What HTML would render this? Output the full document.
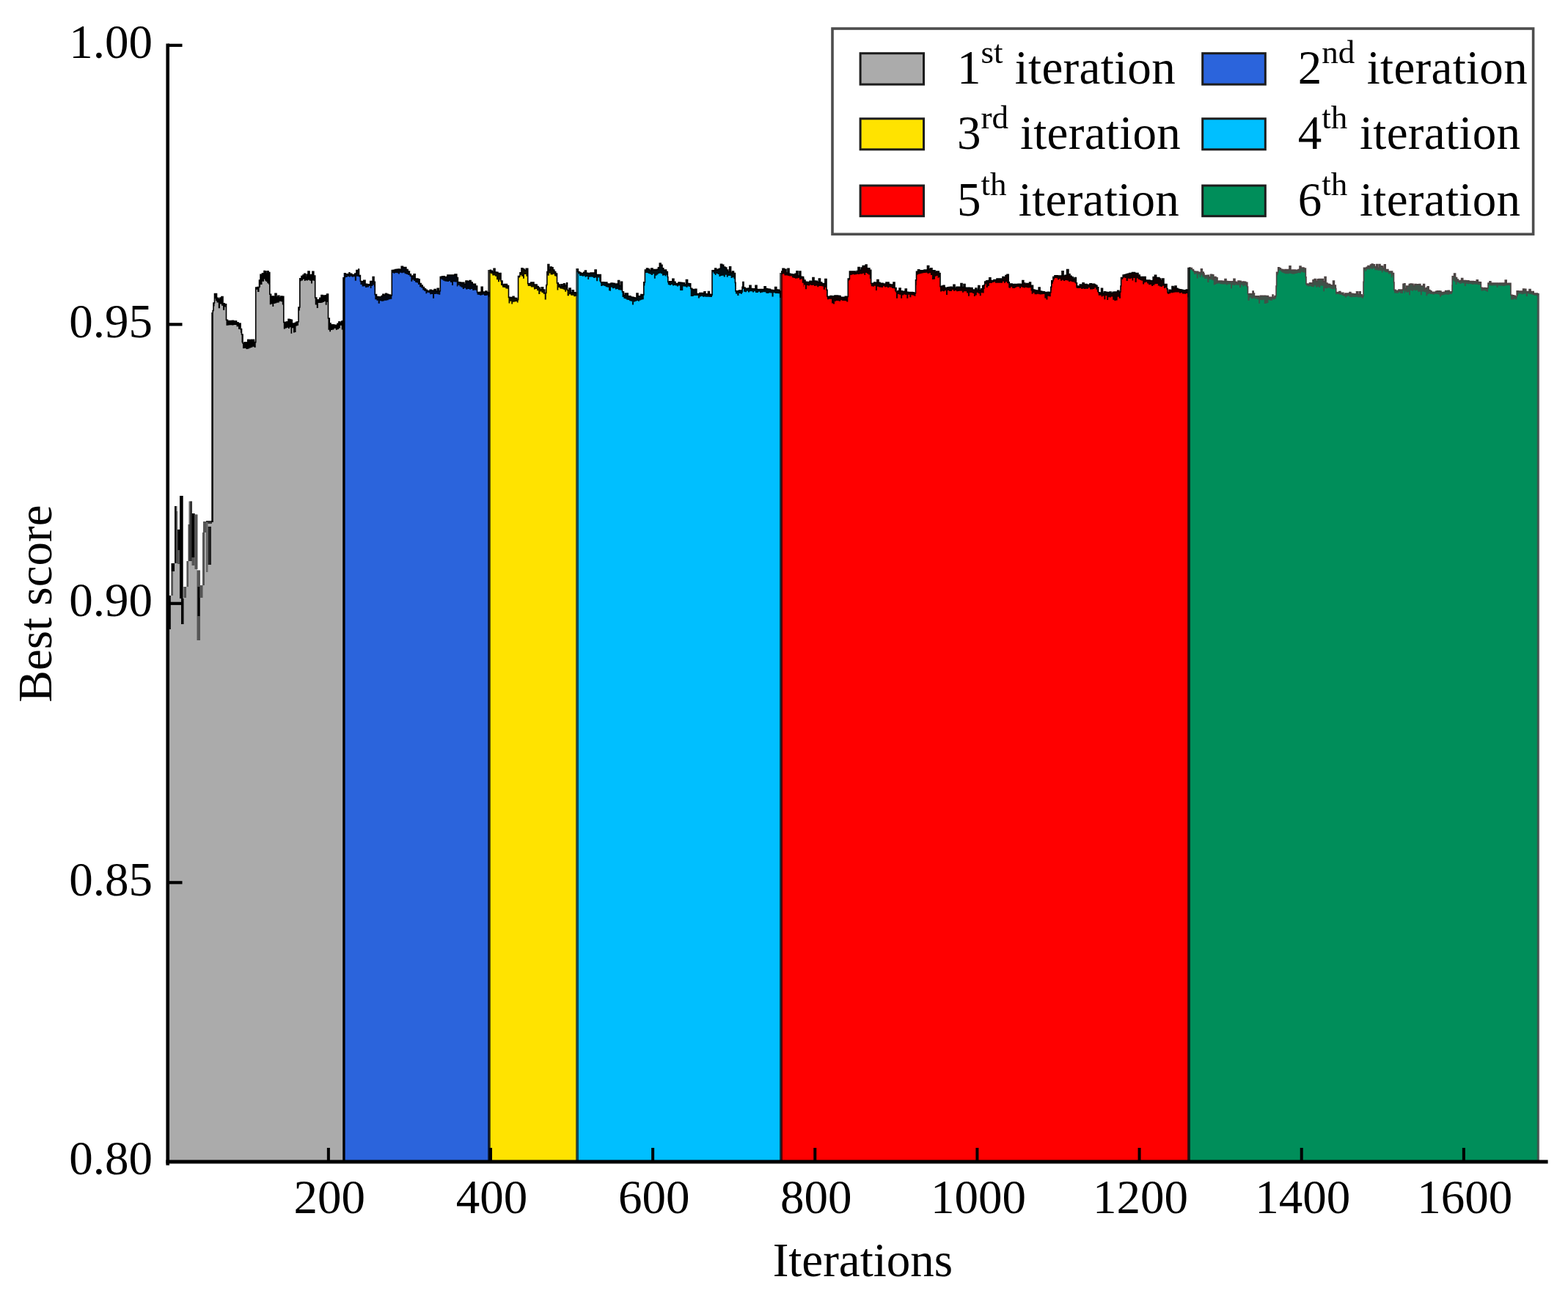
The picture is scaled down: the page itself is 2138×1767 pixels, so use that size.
<!DOCTYPE html>
<html><head><meta charset="utf-8"><title>Best score vs Iterations</title>
<style>html,body{margin:0;padding:0;background:#fff;width:2138px;height:1767px;overflow:hidden}svg{display:block}</style>
</head><body>
<svg width="2138" height="1767" viewBox="0 0 2138 1767"><polygon points="229.5,1584 229.5,812 233,812 233,768 238,768 238,690 242,690 242,722 245,722 245,676 250,676 250,800 254.5,800 254.5,765 257,765 257,683.5 262,683.5 262,700 266,700 266,701.5 269,701.5 269,777.6 273,777.6 273,798 277,798 277,726 279,726 279,711 281,711 281,710 289.5,710 289.5,423.5 291,423.5 291,413 292.5,413 292.5,400.5 294,400.5 294,400.5 295.5,400.5 295.5,406.4 297.75,406.4 297.75,407.9 300,407.9 300,406.15 302,406.15 302,404.53 304,404.53 304,413.85 306.25,413.85 306.25,414.85 308.5,414.85 308.5,436.22 310.5,436.22 310.5,437.79 312.5,437.79 312.5,437.64 314.5,437.64 314.5,437.5 316.5,437.5 316.5,437.36 318.5,437.36 318.5,437.96 320.5,437.96 320.5,437.82 322.5,437.82 322.5,439.85 325,439.85 325,441.35 327,441.35 327,441.15 328,441.15 328,448.65 329.5,448.65 329.5,455.94 331,455.94 331,467.98 333.25,467.98 333.25,466.72 335.5,466.72 335.5,466.72 337.75,466.72 337.75,463.29 340,463.29 340,464.07 342,464.07 342,463.29 344.23,463.29 344.23,463.29 346.47,463.29 346.47,466.6 348.7,466.6 348.7,392 351.1,392 351.1,391.6 353.5,391.6 353.5,382 355,382 355,374.25 357.5,374.25 357.5,372.75 360,372.75 360,369.5 361.2,369.5 361.2,370 362.5,370 362.5,373.17 364.27,373.17 364.27,369.78 366.03,369.78 366.03,371.6 367.8,371.6 367.8,401.27 369.6,401.27 369.6,404.25 371.4,404.25 371.4,404.04 373.2,404.04 373.2,404.68 375,404.68 375,400.38 376.97,400.38 376.97,405.06 378.93,405.06 378.93,403.42 380.9,403.42 380.9,405.82 382.87,405.82 382.87,404.03 384.83,404.03 384.83,404.2 386.8,404.2 386.8,439.55 388.87,439.55 388.87,439.21 390.93,439.21 390.93,438.88 393,438.88 393,435.25 394.75,435.25 394.75,435.75 396.5,435.75 396.5,436.25 398.25,436.25 398.25,440.99 400,440.99 400,440.99 401.75,440.99 401.75,440.49 403.5,440.49 403.5,439.24 405.25,439.24 405.25,438.74 407,438.74 407,419 408.8,419 408.8,379.8 410.9,379.8 410.9,376.5 413,376.5 413,375.12 414.75,375.12 414.75,373.35 416.5,373.35 416.5,377.88 418.25,377.88 418.25,374.33 420,374.33 420,370.05 422,370.05 422,374.99 424,374.99 424,374.49 425.9,374.49 425.9,370.31 427.8,370.31 427.8,375.97 429.7,375.97 429.7,405.97 431.76,405.97 431.76,408.79 433.82,408.79 433.82,408.79 435.88,408.79 435.88,406.29 437.94,406.29 437.94,402.5 440,402.5 440,403.26 441.88,403.26 441.88,403.01 443.75,403.01 443.75,402.76 445.62,402.76 445.62,401.12 447.5,401.12 447.5,434 449.25,434 449.25,440.7 451,440.7 451,442.7 453.25,442.7 453.25,442.7 455.5,442.7 455.5,443.3 457.75,443.3 457.75,443.3 460,443.3 460,441.27 461.93,441.27 461.93,438.77 463.85,438.77 463.85,440.25 465.77,440.25 465.77,438.14 467.7,438.14 467.7,437.02 468.8,437.02 468.8,1584" fill="#ababab"/>
<polygon points="468.8,1584 468.8,372.72 471,372.72 471,373.8 473.5,373.8 473.5,373.8 476,373.8 476,371.8 476.8,371.8 476.8,373.38 477.5,373.38 477.5,373.32 479.6,373.32 479.6,374.66 481.7,374.66 481.7,374.66 483.8,374.66 483.8,373 485.9,373 485.9,368.5 488,368.5 488,371 488.8,371 488.8,367.02 489.5,367.02 489.5,375.43 491.4,375.43 491.4,383.54 493.6,383.54 493.6,383.87 495.8,383.87 495.8,382.27 498,382.27 498,387.33 500.5,387.33 500.5,387.83 503,387.83 503,388.08 504.75,388.08 504.75,383.62 506.5,383.62 506.5,383.62 508.25,383.62 508.25,377.54 510,377.54 510,384.28 511.3,384.28 511.3,401.64 513.48,401.64 513.48,404.43 515.65,404.43 515.65,404.68 517.83,404.68 517.83,404.93 520,404.93 520,403.5 521.88,403.5 521.88,401.25 523.75,401.25 523.75,402.44 525.62,402.44 525.62,400.25 527.5,400.25 527.5,401.33 529.77,401.33 529.77,402 532.03,402 532.03,402.66 534.3,402.66 534.3,368.61 536.44,368.61 536.44,368.41 538.58,368.41 538.58,367.5 540.72,367.5 540.72,367.3 542.86,367.3 542.86,367.1 545,367.1 545,367.63 547.2,367.63 547.2,363.35 549.4,363.35 549.4,364.65 551.6,364.65 551.6,364.65 553.87,364.65 553.87,367.5 556.13,367.5 556.13,370.01 558.4,370.01 558.4,373.75 560.33,373.75 560.33,376.41 562.27,376.41 562.27,376.14 564.2,376.14 564.2,373.79 566.13,373.79 566.13,380 568.07,380 568.07,380 570,380 570,380.79 572.08,380.79 572.08,386.55 574.16,386.55 574.16,389.05 576.24,389.05 576.24,391.55 578.32,391.55 578.32,393.71 580.4,393.71 580.4,395.41 582.32,395.41 582.32,396.63 584.24,396.63 584.24,397.03 586.16,397.03 586.16,395.4 588.08,395.4 588.08,396.08 590,396.08 590,396.28 592.06,396.28 592.06,394.49 594.12,394.49 594.12,396.95 596.18,396.95 596.18,393.34 598.24,393.34 598.24,396.71 600.3,396.71 600.3,377.51 602.24,377.51 602.24,377.16 604.18,377.16 604.18,376.76 606.12,376.76 606.12,378.05 608.06,378.05 608.06,377.65 610,377.65 610,375 612,375 612,375 614,375 614,375.12 616,375.12 616,375.12 618,375.12 618,375.12 620,375.12 620,374.13 622.8,374.13 622.8,378.63 624.4,378.63 624.4,384.77 626.52,384.77 626.52,385.17 628.64,385.17 628.64,385.57 630.76,385.57 630.76,385.4 632.88,385.4 632.88,387.65 635,387.65 635,383.08 637.5,383.08 637.5,383.75 640,383.75 640,382.5 642.12,382.5 642.12,385 644.24,385 644.24,387.2 646.36,387.2 646.36,387.2 648.48,387.2 648.48,389.98 650.6,389.98 650.6,398.48 652.48,398.48 652.48,398.48 654.36,398.48 654.36,398.34 656.24,398.34 656.24,391.24 658.12,391.24 658.12,398.08 660,398.08 660,398.21 661.88,398.21 661.88,397 663.75,397 663.75,398.65 665.62,398.65 665.62,398.9 667.5,398.9 667.5,1584" fill="#2b64dc"/>
<polygon points="667.5,1584 667.5,368.25 669.38,368.25 669.38,369.33 671.25,369.33 671.25,370.99 673.12,370.99 673.12,366.37 675,366.37 675,370.96 677,370.96 677,371.3 679,371.3 679,373.01 681,373.01 681,372.45 683,372.45 683,383.12 685,383.12 685,388.37 687.12,388.37 687.12,387.5 689.25,387.5 689.25,387.5 691.38,387.5 691.38,389.54 693.5,389.54 693.5,405.37 695.37,405.37 695.37,405.66 697.24,405.66 697.24,405.94 699.11,405.94 699.11,404.29 700.99,404.29 700.99,406.29 702.86,406.29 702.86,406.57 704.73,406.57 704.73,408.81 706.6,408.81 706.6,376.46 709,376.46 709,371.78 711,371.78 711,365.72 713,365.72 713,366.99 715,366.99 715,368.62 717.35,368.62 717.35,366.22 719.7,366.22 719.7,386.77 721.76,386.77 721.76,386.44 723.82,386.44 723.82,385 725.88,385 725.88,385 727.94,385 727.94,388.17 730,388.17 730,388.17 732.12,388.17 732.12,390.67 734.23,390.67 734.23,392.23 736.35,392.23 736.35,394.7 738.47,394.7 738.47,391.76 740.58,391.76 740.58,395 742.7,395 742.7,399.5 744.8,399.5 744.8,388.5 745.9,388.5 745.9,370.43 747,370.43 747,360.57 748.75,360.57 748.75,368.12 750.5,368.12 750.5,364 752.25,364 752.25,364.73 754,364.73 754,367.97 755.83,367.97 755.83,370.47 757.67,370.47 757.67,372.97 759.5,372.97 759.5,385.9 761.33,385.9 761.33,388.07 763.17,388.07 763.17,390.57 765,390.57 765,387.71 766.75,387.71 766.75,390.62 768.5,390.62 768.5,386.77 770.25,386.77 770.25,390.2 772,390.2 772,388.5 772.6,388.5 772.6,385.91 773.5,385.91 773.5,395.5 776,395.5 776,393.04 778.1,393.04 778.1,399.1 780.2,399.1 780.2,395.89 782.3,395.89 782.3,398.83 784.4,398.83 784.4,399.03 786.5,399.03 786.5,1584" fill="#ffe300"/>
<polygon points="786.5,1584 786.5,367 788.25,367 788.25,370.46 790,370.46 790,371.59 791.88,371.59 791.88,372.49 793.75,372.49 793.75,372.74 795.62,372.74 795.62,371.26 797.5,371.26 797.5,369.13 799.38,369.13 799.38,372.35 801.25,372.35 801.25,372.6 803.12,372.6 803.12,372.85 805,372.85 805,372 807.03,372 807.03,372 809.06,372 809.06,372.12 811.09,372.12 811.09,368.01 813.11,368.01 813.11,374.58 815.14,374.58 815.14,374.58 817.17,374.58 817.17,374.58 819.2,374.58 819.2,384.93 821.36,384.93 821.36,384.74 823.52,384.74 823.52,384.94 825.68,384.94 825.68,385.14 827.84,385.14 827.84,387.02 830,387.02 830,387.12 831.7,387.12 831.7,387.62 833,387.62 833,386.12 834.94,386.12 834.94,386.38 836.88,386.38 836.88,386.62 838.81,386.62 838.81,388 840.75,388 840.75,387.12 842.69,387.12 842.69,382.65 844.62,382.65 844.62,389.64 846.56,389.64 846.56,384.23 848.5,384.23 848.5,397.91 850.42,397.91 850.42,402.81 852.33,402.81 852.33,400 854.25,400 854.25,400 856.17,400 856.17,403.74 858.08,403.74 858.08,403.74 860,403.74 860,405.02 862,405.02 862,405.4 864,405.4 864,405.9 866,405.9 866,406.52 868,406.52 868,400.02 869.96,400.02 869.96,403.73 871.92,403.73 871.92,403.73 873.88,403.73 873.88,401.64 875.84,401.64 875.84,401.84 877.8,401.84 877.8,384.84 879.4,384.84 879.4,368.1 881.52,368.1 881.52,366 883.64,366 883.64,366.99 885.76,366.99 885.76,368.93 887.88,368.93 887.88,366.12 890,366.12 890,367.97 891.86,367.97 891.86,367.5 893.72,367.5 893.72,368.12 895.58,368.12 895.58,367.29 897.44,367.29 897.44,364.79 899.3,364.79 899.3,359.14 901.13,359.14 901.13,361.36 902.97,361.36 902.97,365.79 904.8,365.79 904.8,368.29 906.63,368.29 906.63,368.07 908.47,368.07 908.47,370.57 910.3,370.57 910.3,377.72 910.8,377.72 910.8,384.37 912.83,384.37 912.83,383.9 914.86,383.9 914.86,383.71 916.89,383.71 916.89,380.27 918.91,380.27 918.91,384.29 920.94,384.29 920.94,386.61 922.97,386.61 922.97,386.9 925,386.9 925,385.12 927.09,385.12 927.09,385.38 929.17,385.38 929.17,385.62 931.26,385.62 931.26,385.88 933.35,385.88 933.35,387.99 935.44,387.99 935.44,381.53 937.53,381.53 937.53,386.62 939.61,386.62 939.61,386.88 941.7,386.88 941.7,393.36 943.73,393.36 943.73,394.58 945.77,394.58 945.77,394.99 947.8,394.99 947.8,394.24 949.83,394.24 949.83,400.61 951.87,400.61 951.87,400.83 953.9,400.83 953.9,399.44 955.93,399.44 955.93,399.67 957.97,399.67 957.97,399.89 960,399.89 960,397.68 961.83,397.68 961.83,400.77 963.67,400.77 963.67,400.98 965.5,400.98 965.5,397.64 967.33,397.64 967.33,401.31 969.17,401.31 969.17,402.15 971,402.15 971,368.73 972.88,368.73 972.88,368.73 974.76,368.73 974.76,366.01 976.64,366.01 976.64,368.12 978.52,368.12 978.52,367.24 980.4,367.24 980.4,366.24 982.5,366.24 982.5,360.27 984.6,360.27 984.6,361.36 986.7,361.36 986.7,364 988.8,364 988.8,365 990.74,365 990.74,368.08 992.69,368.08 992.69,370.58 994.63,370.58 994.63,363.92 996.57,363.92 996.57,372.1 998.51,372.1 998.51,370 1000.46,370 1000.46,372.5 1002.4,372.5 1002.4,385.42 1003,385.42 1003,396.89 1005.25,396.89 1005.25,396.89 1007.5,396.89 1007.5,396 1009.75,396 1009.75,396 1012,396 1012,391.18 1012.9,391.18 1012.9,384.5 1014,384.5 1014,392.14 1016,392.14 1016,393.4 1018,393.4 1018,393.55 1020,393.55 1020,393.09 1022,393.09 1022,389.34 1024,389.34 1024,393.56 1026,393.56 1026,393.72 1028,393.72 1028,393.87 1030,393.87 1030,389.29 1032,389.29 1032,394.55 1034,394.55 1034,394.7 1036,394.7 1036,394.52 1038,394.52 1038,394.45 1040,394.45 1040,394.61 1042.08,394.61 1042.08,390.87 1044.17,390.87 1044.17,393.44 1046.25,393.44 1046.25,394.05 1048.33,394.05 1048.33,394.22 1050.42,394.22 1050.42,395.38 1052.5,395.38 1052.5,395.55 1054.58,395.55 1054.58,395.95 1056.67,395.95 1056.67,391.45 1058.75,391.45 1058.75,395.14 1060.83,395.14 1060.83,395.32 1062.92,395.32 1062.92,396.97 1065,396.97 1065,1584" fill="#00bfff"/>
<polygon points="1065,1584 1065,370 1067,370 1067,366.35 1069.4,366.35 1069.4,367.35 1072,367.35 1072,371.95 1074,371.95 1074,366.33 1076,366.33 1076,373.22 1078,373.22 1078,373.72 1080,373.72 1080,374.17 1082,374.17 1082,374.57 1084,374.57 1084,373.21 1086,373.21 1086,369.92 1088,369.92 1088,376.11 1090,376.11 1090,370.17 1091.87,370.17 1091.87,377.31 1093.73,377.31 1093.73,377.5 1095.6,377.5 1095.6,379.73 1096,379.73 1096,382.05 1098,382.05 1098,384.39 1100,384.39 1100,384.62 1102,384.62 1102,384.85 1104,384.85 1104,383.19 1106,383.19 1106,384.04 1108,384.04 1108,378.44 1110,378.44 1110,383.09 1112.12,383.09 1112.12,383.28 1114.25,383.28 1114.25,384.62 1116.38,384.62 1116.38,380.02 1118.5,380.02 1118.5,384.99 1120.62,384.99 1120.62,386.66 1122.75,386.66 1122.75,386.85 1124.88,386.85 1124.88,380.6 1127,380.6 1127,395.37 1128,395.37 1128,404.37 1130,404.37 1130,404.47 1132,404.47 1132,403.67 1134,403.67 1134,403.77 1136,403.77 1136,403.87 1138,403.87 1138,402.95 1140,402.95 1140,403.06 1142.04,403.06 1142.04,403.19 1144.08,403.19 1144.08,403.62 1146.11,403.62 1146.11,405.28 1148.15,405.28 1148.15,405.4 1150.19,405.4 1150.19,405.53 1152.22,405.53 1152.22,404.41 1154.26,404.41 1154.26,404.53 1156.3,404.53 1156.3,380.1 1158.4,380.1 1158.4,370 1160.33,370 1160.33,370 1162.27,370 1162.27,370 1164.2,370 1164.2,370 1166.13,370 1166.13,371.63 1168.07,371.63 1168.07,369.53 1170,369.53 1170,364.65 1172.08,364.65 1172.08,368.28 1174.15,368.28 1174.15,365 1176.22,365 1176.22,362.5 1178.3,362.5 1178.3,362.5 1180.18,362.5 1180.18,360.94 1182.06,360.94 1182.06,365.89 1183.94,365.89 1183.94,365.89 1185.82,365.89 1185.82,368.39 1187.7,368.39 1187.7,386.56 1189.75,386.56 1189.75,386.3 1191.8,386.3 1191.8,384.96 1193.85,384.96 1193.85,385.61 1195.9,385.61 1195.9,381.61 1197.95,381.61 1197.95,385.33 1200,385.33 1200,386.2 1202,386.2 1202,386.2 1204,386.2 1204,387.04 1206,387.04 1206,387.04 1208,387.04 1208,385 1210,385 1210,385 1212,385 1212,387.5 1214,387.5 1214,388.15 1216,388.15 1216,388.15 1218,388.15 1218,385.08 1220,385.08 1220,392.52 1222,392.52 1222,397.94 1224.04,397.94 1224.04,396.54 1226.08,396.54 1226.08,392.95 1228.12,392.95 1228.12,396.85 1230.15,396.85 1230.15,397.18 1232.19,397.18 1232.19,397.34 1234.23,397.34 1234.23,394.15 1236.27,394.15 1236.27,398.28 1238.31,398.28 1238.31,398.43 1240.35,398.43 1240.35,398.46 1242.38,398.46 1242.38,398.62 1244.42,398.62 1244.42,398.77 1246.46,398.77 1246.46,399.72 1248.5,399.72 1248.5,381.89 1249.5,381.89 1249.5,370.19 1251.6,370.19 1251.6,367.78 1253.7,367.78 1253.7,368.89 1255.8,368.89 1255.8,368.89 1257.9,368.89 1257.9,368.89 1260,368.89 1260,368.12 1262.22,368.12 1262.22,368.12 1264.45,368.12 1264.45,362.5 1266.68,362.5 1266.68,366.89 1268.9,366.89 1268.9,365.88 1270.93,365.88 1270.93,368.85 1272.97,368.85 1272.97,368.85 1275,368.85 1275,371.35 1276.75,371.35 1276.75,370.17 1278.5,370.17 1278.5,370.17 1280.25,370.17 1280.25,372.67 1282,372.67 1282,390.69 1284,390.69 1284,390.03 1286,390.03 1286,389.26 1288,389.26 1288,392.22 1290,392.22 1290,392.9 1292,392.9 1292,391.78 1294,391.78 1294,391.56 1296,391.56 1296,391.33 1298,391.33 1298,392.42 1300,392.42 1300,388.27 1302,388.27 1302,392.77 1304,392.77 1304,391.25 1306,391.25 1306,391.35 1308,391.35 1308,391.45 1310,391.45 1310,386.62 1312,386.62 1312,391.65 1314,391.65 1314,387.61 1316,387.61 1316,392.4 1318,392.4 1318,392.61 1320,392.61 1320,392.25 1321.97,392.25 1321.97,392.43 1323.95,392.43 1323.95,392.61 1325.92,392.61 1325.92,395.17 1327.89,395.17 1327.89,395.36 1329.86,395.36 1329.86,393 1331.84,393 1331.84,395.33 1333.81,395.33 1333.81,389.52 1335.78,389.52 1335.78,395.7 1337.75,395.7 1337.75,393.73 1339.73,393.73 1339.73,389.57 1341.7,389.57 1341.7,388.75 1342.7,388.75 1342.7,384.08 1344.75,384.08 1344.75,382.88 1346.8,382.88 1346.8,382.46 1348.85,382.46 1348.85,378.72 1350.9,378.72 1350.9,382.5 1352.95,382.5 1352.95,382.79 1355,382.79 1355,381.58 1357,381.58 1357,381.58 1359,381.58 1359,380.05 1361,380.05 1361,380.05 1363,380.05 1363,380.05 1365,380.05 1365,380.34 1367,380.34 1367,377.5 1369,377.5 1369,378.21 1371,378.21 1371,375.57 1373,375.57 1373,374.4 1375.2,374.4 1375.2,384.81 1376.2,384.81 1376.2,387.07 1378.17,387.07 1378.17,386.93 1380.14,386.93 1380.14,387.81 1382.11,387.81 1382.11,387.66 1384.09,387.66 1384.09,387.52 1386.06,387.52 1386.06,387.51 1388.03,387.51 1388.03,387.37 1390,387.37 1390,387.42 1391.94,387.42 1391.94,387.93 1393.88,387.93 1393.88,382.61 1395.81,382.61 1395.81,385.93 1397.75,385.93 1397.75,387.31 1399.69,387.31 1399.69,386.46 1401.62,386.46 1401.62,386.71 1403.56,386.71 1403.56,385.02 1405.5,385.02 1405.5,390.5 1406.6,390.5 1406.6,389.29 1408.51,389.29 1408.51,395.17 1410.43,395.17 1410.43,395.45 1412.34,395.45 1412.34,396 1414.26,396 1414.26,396.29 1416.17,396.29 1416.17,392.16 1418.09,392.16 1418.09,397.15 1420,397.15 1420,397.46 1422.13,397.46 1422.13,397.8 1424.27,397.8 1424.27,398.67 1426.4,398.67 1426.4,398.52 1428.53,398.52 1428.53,398.27 1430.67,398.27 1430.67,398.6 1432.8,398.6 1432.8,391.25 1433.8,391.25 1433.8,382.85 1435.9,382.85 1435.9,377.6 1438,377.6 1438,375.8 1440,375.8 1440,375.8 1442,375.8 1442,376.16 1444,376.16 1444,376.16 1446,376.16 1446,376.16 1448,376.16 1448,369.82 1450,369.82 1450,376.17 1452.3,376.17 1452.3,375.2 1454.6,375.2 1454.6,367.44 1456.9,367.44 1456.9,373.77 1458.98,373.77 1458.98,376.27 1461.06,376.27 1461.06,377.89 1463.14,377.89 1463.14,380.39 1465.22,380.39 1465.22,378.61 1467.3,378.61 1467.3,385.91 1468.4,385.91 1468.4,390.01 1470.33,390.01 1470.33,390.66 1472.27,390.66 1472.27,388.16 1474.2,388.16 1474.2,388.41 1476.13,388.41 1476.13,385.76 1478.07,385.76 1478.07,387.5 1480,387.5 1480,387.5 1482,387.5 1482,388.38 1484,388.38 1484,388.38 1486,388.38 1486,386.87 1488.17,386.87 1488.17,387.18 1490.33,387.18 1490.33,387.18 1492.5,387.18 1492.5,388.18 1494.23,388.18 1494.23,389.27 1495.97,389.27 1495.97,391.77 1497.7,391.77 1497.7,398.82 1499.62,398.82 1499.62,399.66 1501.54,399.66 1501.54,393.29 1503.47,393.29 1503.47,399.88 1505.39,399.88 1505.39,397.76 1507.31,397.76 1507.31,398.32 1509.23,398.32 1509.23,398.43 1511.16,398.43 1511.16,398.54 1513.08,398.54 1513.08,398.03 1515,398.03 1515,399.73 1517.17,399.73 1517.17,398.42 1519.33,398.42 1519.33,398 1521.5,398 1521.5,398 1523.67,398 1523.67,396.31 1525.83,396.31 1525.83,398 1528,398 1528,390 1528.6,390 1528.6,378.5 1531.2,378.5 1531.2,375.13 1533.4,375.13 1533.4,374.63 1535.6,374.63 1535.6,373.8 1537.8,373.8 1537.8,373.25 1540,373.25 1540,372.5 1541.77,372.5 1541.77,372.51 1543.53,372.51 1543.53,371.49 1545.3,371.49 1545.3,371.49 1547.53,371.49 1547.53,372.5 1549.75,372.5 1549.75,372.5 1551.97,372.5 1551.97,375 1554.2,375 1554.2,377.5 1556.17,377.5 1556.17,377.5 1558.15,377.5 1558.15,377.5 1560.12,377.5 1560.12,377.5 1562.1,377.5 1562.1,382.05 1564.08,382.05 1564.08,382.05 1566.05,382.05 1566.05,382.05 1568.03,382.05 1568.03,382.72 1570,382.72 1570,382.72 1572.2,382.72 1572.2,377.88 1574.4,377.88 1574.4,375.3 1576.6,375.3 1576.6,378.62 1578.8,378.62 1578.8,378.62 1580.83,378.62 1580.83,380 1582.87,380 1582.87,382.5 1584.9,382.5 1584.9,380.03 1586.93,380.03 1586.93,387.67 1588.97,387.67 1588.97,387.67 1591,387.67 1591,393.65 1592,393.65 1592,398.65 1594,398.65 1594,395.27 1596,395.27 1596,396.15 1598,396.15 1598,390.43 1600,390.43 1600,392.2 1602,392.2 1602,390.01 1604,390.01 1604,393.41 1606,393.41 1606,394.36 1608,394.36 1608,394.76 1610,394.76 1610,395.04 1611.83,395.04 1611.83,395.53 1613.67,395.53 1613.67,395.7 1615.5,395.7 1615.5,395.86 1617.33,395.86 1617.33,394.95 1619.17,394.95 1619.17,395.12 1621,395.12 1621,1584" fill="#ff0000"/>
<polygon points="1621,1584 1621,365 1623.17,365 1623.17,365.54 1625.33,365.54 1625.33,367.5 1627.5,367.5 1627.5,369.44 1628,369.44 1628,370.07 1629.89,370.07 1629.89,370.21 1631.77,370.21 1631.77,370.36 1633.66,370.36 1633.66,371.38 1635.54,371.38 1635.54,371.53 1637.43,371.53 1637.43,366.81 1639.31,366.81 1639.31,370.93 1641.2,370.93 1641.2,373 1642,373 1642,375.65 1644.13,375.65 1644.13,375.65 1646.27,375.65 1646.27,375.26 1648.4,375.26 1648.4,377.76 1650.53,377.76 1650.53,374.3 1652.67,374.3 1652.67,374.92 1654.8,374.92 1654.8,380.25 1656,380.25 1656,377.59 1658,377.59 1658,378.68 1660,378.68 1660,383.37 1662,383.37 1662,382.94 1664,382.94 1664,383.06 1666,383.06 1666,383.36 1668,383.36 1668,383.48 1670,383.48 1670,380.55 1672,380.55 1672,383.56 1674,383.56 1674,383.69 1676,383.69 1676,383.81 1678,383.81 1678,383.94 1680,383.94 1680,383.9 1682,383.9 1682,380.22 1684,380.22 1684,384.22 1686,384.22 1686,385.33 1688,385.33 1688,383.1 1690,383.1 1690,383.2 1692.16,383.2 1692.16,384.54 1694.32,384.54 1694.32,384 1696.48,384 1696.48,384.4 1698.64,384.4 1698.64,385.4 1700.8,385.4 1700.8,390.97 1701.5,390.97 1701.5,400.77 1703.67,400.77 1703.67,400.51 1705.83,400.51 1705.83,400.84 1708,400.84 1708,397.01 1709.2,397.01 1709.2,400.02 1710.5,400.02 1710.5,404.09 1712.4,404.09 1712.4,403.68 1714.3,403.68 1714.3,403.88 1716.2,403.88 1716.2,404.87 1718.1,404.87 1718.1,403.26 1720,403.26 1720,403.42 1721.88,403.42 1721.88,403.55 1723.75,403.55 1723.75,403.31 1725.62,403.31 1725.62,403.44 1727.5,403.44 1727.5,403.56 1729.38,403.56 1729.38,405.23 1731.25,405.23 1731.25,405.35 1733.12,405.35 1733.12,405.48 1735,405.48 1735,401.93 1735.4,401.93 1735.4,401.93 1736,401.93 1736,405.43 1738,405.43 1738,403.64 1740,403.64 1740,390 1740.6,390 1740.6,371.35 1742.7,371.35 1742.7,364.86 1744.53,364.86 1744.53,365.89 1746.35,365.89 1746.35,367.31 1748.17,367.31 1748.17,367.64 1750,367.64 1750,368.19 1752,368.19 1752,367.44 1754,367.44 1754,367.84 1756,367.84 1756,367.65 1758,367.65 1758,362.84 1760,362.84 1760,368.25 1762,368.25 1762,368.15 1764,368.15 1764,368.15 1766,368.15 1766,368.3 1768,368.3 1768,368.3 1770,368.3 1770,367.5 1772,367.5 1772,363.07 1774,363.07 1774,365 1776,365 1776,365 1778,365 1778,366 1780.4,366 1780.4,377.74 1781,377.74 1781,387.09 1783.25,387.09 1783.25,387.19 1785.5,387.19 1785.5,385.85 1787.75,385.85 1787.75,385.95 1790,385.95 1790,381.89 1792.06,381.89 1792.06,380.49 1794.12,380.49 1794.12,383.41 1796.18,383.41 1796.18,380.91 1798.24,380.91 1798.24,380.58 1800.3,380.58 1800.3,380.58 1802.24,380.58 1802.24,380.58 1804.18,380.58 1804.18,383.83 1806.12,383.83 1806.12,377.63 1808.06,377.63 1808.06,386.12 1810,386.12 1810,387.28 1811.88,387.28 1811.88,387.62 1813.77,387.62 1813.77,388.91 1815.65,388.91 1815.65,389.24 1817.53,389.24 1817.53,382.95 1819.42,382.95 1819.42,388.94 1821.3,388.94 1821.3,393.6 1821.8,393.6 1821.8,398.6 1823.82,398.6 1823.82,398.91 1825.84,398.91 1825.84,397.5 1827.87,397.5 1827.87,399.22 1829.89,399.22 1829.89,399.22 1831.91,399.22 1831.91,401.72 1833.93,401.72 1833.93,400.03 1835.96,400.03 1835.96,400 1837.98,400 1837.98,400 1840,400 1840,398.43 1841.9,398.43 1841.9,400.3 1843.8,400.3 1843.8,400.5 1845.7,400.5 1845.7,400.7 1847.6,400.7 1847.6,400.9 1849.5,400.9 1849.5,397.9 1851.4,397.9 1851.4,401.3 1853.3,401.3 1853.3,397.86 1855.2,397.86 1855.2,401.7 1857.1,401.7 1857.1,403.55 1859,403.55 1859,384.25 1859.5,384.25 1859.5,365.42 1861.33,365.42 1861.33,365.25 1863.17,365.25 1863.17,364.4 1865,364.4 1865,362.62 1866.75,362.62 1866.75,363.66 1868.5,363.66 1868.5,361.16 1870.25,361.16 1870.25,360 1872,360 1872,360.88 1874.35,360.88 1874.35,363.62 1876.7,363.62 1876.7,360.67 1878.47,360.67 1878.47,365.21 1880.25,365.21 1880.25,360.53 1882.03,360.53 1882.03,362.71 1883.8,362.71 1883.8,362.94 1885.6,362.94 1885.6,365.44 1887.4,365.44 1887.4,360.78 1889.2,360.78 1889.2,367.5 1891,367.5 1891,367.5 1892.9,367.5 1892.9,370 1894.8,370 1894.8,370 1896.7,370 1896.7,370 1898.6,370 1898.6,372.5 1900.5,372.5 1900.5,385.01 1901,385.01 1901,395.33 1903,395.33 1903,396.37 1905,396.37 1905,396.2 1907,396.2 1907,394.94 1909,394.94 1909,395.23 1911,395.23 1911,395.02 1913,395.02 1913,387.24 1914.7,387.24 1914.7,386.74 1916,386.74 1916,393.6 1917.75,393.6 1917.75,390 1919.5,390 1919.5,390 1921.25,390 1921.25,387.5 1923,387.5 1923,387.08 1925,387.08 1925,387.25 1927,387.25 1927,389.58 1929,389.58 1929,387.58 1931,387.58 1931,387.75 1933,387.75 1933,387.92 1935,387.92 1935,387.5 1936.88,387.5 1936.88,390 1938.75,390 1938.75,390 1940.62,390 1940.62,387.6 1942.5,387.6 1942.5,393.84 1944.38,393.84 1944.38,392.5 1946.25,392.5 1946.25,390.74 1948.12,390.74 1948.12,395.63 1950,395.63 1950,396.69 1951.88,396.69 1951.88,398.25 1953.75,398.25 1953.75,398.38 1955.62,398.38 1955.62,398.5 1957.5,398.5 1957.5,397.42 1959.38,397.42 1959.38,396.69 1961.25,396.69 1961.25,396.81 1963.12,396.81 1963.12,396.94 1965,396.94 1965,398.58 1966.88,398.58 1966.88,398.46 1968.75,398.46 1968.75,398.33 1970.62,398.33 1970.62,396.56 1972.5,396.56 1972.5,396.44 1974.38,396.44 1974.38,396.31 1976.25,396.31 1976.25,398.01 1978.12,398.01 1978.12,397.89 1980,397.89 1980,389.06 1980.2,389.06 1980.2,376.76 1982.6,376.76 1982.6,373.06 1984.57,373.06 1984.57,378.53 1986.53,378.53 1986.53,381.03 1988.5,381.03 1988.5,383.1 1990.56,383.1 1990.56,382.61 1992.62,382.61 1992.62,379.48 1994.69,379.48 1994.69,382.44 1996.75,382.44 1996.75,382.56 1998.81,382.56 1998.81,382.69 2000.88,382.69 2000.88,382.81 2002.94,382.81 2002.94,383.45 2005,383.45 2005,383.62 2007.06,383.62 2007.06,383.58 2009.11,383.58 2009.11,383.79 2011.17,383.79 2011.17,384.01 2013.23,384.01 2013.23,381.84 2015.29,381.84 2015.29,384.62 2017.34,384.62 2017.34,384.84 2019.4,384.84 2019.4,392.26 2021.32,392.26 2021.32,392.95 2023.24,392.95 2023.24,392.5 2025.16,392.5 2025.16,392.7 2027.08,392.7 2027.08,392.9 2029,392.9 2029,386 2030.94,386 2030.94,383.79 2032.88,383.79 2032.88,386.11 2034.81,386.11 2034.81,386.11 2036.75,386.11 2036.75,386.04 2038.69,386.04 2038.69,386.04 2040.62,386.04 2040.62,386.04 2042.56,386.04 2042.56,386.19 2044.5,386.19 2044.5,386.06 2046.44,386.06 2046.44,386.06 2048.38,386.06 2048.38,386.06 2050.31,386.06 2050.31,386.02 2052.25,386.02 2052.25,382.12 2054.19,382.12 2054.19,386.68 2056.12,386.68 2056.12,386.2 2058.06,386.2 2058.06,386.2 2060,386.2 2060,402.26 2062.05,402.26 2062.05,402.76 2064.1,402.76 2064.1,403.26 2066.15,403.26 2066.15,404.52 2068.2,404.52 2068.2,396.83 2070.3,396.83 2070.3,396.95 2072.4,396.95 2072.4,397.08 2074.5,397.08 2074.5,397.08 2076.6,397.08 2076.6,393.96 2078.7,393.96 2078.7,394.42 2080.8,394.42 2080.8,397.53 2082.9,397.53 2082.9,397.65 2085,397.65 2085,394.48 2087.07,394.48 2087.07,397.59 2089.13,397.59 2089.13,397.5 2091.2,397.5 2091.2,400 2093.27,400 2093.27,400 2095.33,400 2095.33,400 2097.4,400 2097.4,1584" fill="#008e5a"/>
<polygon points="289.5,423.5 291,423.5 291,413 292.5,413 292.5,400.5 294,400.5 294,400.5 295.5,400.5 295.5,406.4 297.75,406.4 297.75,407.9 300,407.9 300,406.15 302,406.15 302,404.53 304,404.53 304,413.85 306.25,413.85 306.25,414.85 308.5,414.85 308.5,436.22 310.5,436.22 310.5,437.79 312.5,437.79 312.5,437.64 314.5,437.64 314.5,437.5 316.5,437.5 316.5,437.36 318.5,437.36 318.5,437.96 320.5,437.96 320.5,437.82 322.5,437.82 322.5,439.85 325,439.85 325,441.35 327,441.35 327,441.15 328,441.15 328,448.65 329.5,448.65 329.5,455.94 331,455.94 331,467.98 333.25,467.98 333.25,466.72 335.5,466.72 335.5,466.72 337.75,466.72 337.75,463.29 340,463.29 340,464.07 342,464.07 342,463.29 344.23,463.29 344.23,463.29 346.47,463.29 346.47,466.6 348.7,466.6 348.7,392 351.1,392 351.1,391.6 353.5,391.6 353.5,382 355,382 355,374.25 357.5,374.25 357.5,372.75 360,372.75 360,369.5 361.2,369.5 361.2,370 362.5,370 362.5,373.17 364.27,373.17 364.27,369.78 366.03,369.78 366.03,371.6 367.8,371.6 367.8,401.27 369.6,401.27 369.6,404.25 371.4,404.25 371.4,404.04 373.2,404.04 373.2,404.68 375,404.68 375,400.38 376.97,400.38 376.97,405.06 378.93,405.06 378.93,403.42 380.9,403.42 380.9,405.82 382.87,405.82 382.87,404.03 384.83,404.03 384.83,404.2 386.8,404.2 386.8,439.55 388.87,439.55 388.87,439.21 390.93,439.21 390.93,438.88 393,438.88 393,435.25 394.75,435.25 394.75,435.75 396.5,435.75 396.5,436.25 398.25,436.25 398.25,440.99 400,440.99 400,440.99 401.75,440.99 401.75,440.49 403.5,440.49 403.5,439.24 405.25,439.24 405.25,438.74 407,438.74 407,419 408.8,419 408.8,379.8 410.9,379.8 410.9,376.5 413,376.5 413,375.12 414.75,375.12 414.75,373.35 416.5,373.35 416.5,377.88 418.25,377.88 418.25,374.33 420,374.33 420,370.05 422,370.05 422,374.99 424,374.99 424,374.49 425.9,374.49 425.9,370.31 427.8,370.31 427.8,375.97 429.7,375.97 429.7,405.97 431.76,405.97 431.76,408.79 433.82,408.79 433.82,408.79 435.88,408.79 435.88,406.29 437.94,406.29 437.94,402.5 440,402.5 440,403.26 441.88,403.26 441.88,403.01 443.75,403.01 443.75,402.76 445.62,402.76 445.62,401.12 447.5,401.12 447.5,434 449.25,434 449.25,440.7 451,440.7 451,442.7 453.25,442.7 453.25,442.7 455.5,442.7 455.5,443.3 457.75,443.3 457.75,443.3 460,443.3 460,441.27 461.93,441.27 461.93,438.77 463.85,438.77 463.85,440.25 465.77,440.25 465.77,438.14 467.7,438.14 467.7,437.02 468.8,437.02 468.8,445.01 467.7,445.01 467.7,449.58 465.77,449.58 465.77,443.78 463.85,443.78 463.85,447.53 461.93,447.53 461.93,449.05 460,449.05 460,449.63 457.75,449.63 457.75,447.77 455.5,447.77 455.5,449.54 453.25,449.54 453.25,449.96 451,449.96 451,452.34 449.25,452.34 449.25,449.8 447.5,449.8 447.5,411.83 445.62,411.83 445.62,415.65 443.75,415.65 443.75,411.12 441.88,411.12 441.88,412.07 440,412.07 440,412.71 437.94,412.71 437.94,412.88 435.88,412.88 435.88,413.12 433.82,413.12 433.82,420.09 431.76,420.09 431.76,415.39 429.7,415.39 429.7,382.9 427.8,382.9 427.8,382.43 425.9,382.43 425.9,386.42 424,386.42 424,382.65 422,382.65 422,381.78 420,381.78 420,382.56 418.25,382.56 418.25,382.16 416.5,382.16 416.5,382.97 414.75,382.97 414.75,380.85 413,380.85 413,382.45 410.9,382.45 410.9,383.2 408.8,383.2 408.8,423.47 407,423.47 407,443.83 405.25,443.83 405.25,444.39 403.5,444.39 403.5,453.06 401.75,453.06 401.75,453.42 400,453.42 400,447.3 398.25,447.3 398.25,454.87 396.5,454.87 396.5,446.3 394.75,446.3 394.75,448.03 393,448.03 393,446.74 390.93,446.74 390.93,447.41 388.87,447.41 388.87,448.44 386.8,448.44 386.8,415.56 384.83,415.56 384.83,411.14 382.87,411.14 382.87,410.73 380.9,410.73 380.9,412.57 378.93,412.57 378.93,412.69 376.97,412.69 376.97,413.56 375,413.56 375,414.11 373.2,414.11 373.2,417.88 371.4,417.88 371.4,414.53 369.6,414.53 369.6,415.2 367.8,415.2 367.8,387.74 366.03,387.74 366.03,386.26 364.27,386.26 364.27,384.12 362.5,384.12 362.5,382.84 361.2,382.84 361.2,380.58 360,380.58 360,383.78 357.5,383.78 357.5,388.12 355,388.12 355,391.45 353.5,391.45 353.5,398.05 351.1,398.05 351.1,394.75 348.7,394.75 348.7,473.75 346.47,473.75 346.47,472.68 344.23,472.68 344.23,473.77 342,473.77 342,474.51 340,474.51 340,475.45 337.75,475.45 337.75,475.93 335.5,475.93 335.5,474.73 333.25,474.73 333.25,474.98 331,474.98 331,467.12 329.5,467.12 329.5,453.76 328,453.76 328,446.71 327,446.71 327,448.81 325,448.81 325,445.18 322.5,445.18 322.5,442.93 320.5,442.93 320.5,442.89 318.5,442.89 318.5,443.56 316.5,443.56 316.5,443.29 314.5,443.29 314.5,443.36 312.5,443.36 312.5,443.49 310.5,443.49 310.5,443.72 308.5,443.72 308.5,418.55 306.25,418.55 306.25,422.79 304,422.79 304,416.66 302,416.66 302,414.45 300,414.45 300,420.2 297.75,420.2 297.75,412.51 295.5,412.51 295.5,410.3 294,410.3 294,407.3 292.5,407.3 292.5,417.43 291,417.43 291,426.5 289.5,426.5" fill="#000" fill-opacity="1.0"/>
<polyline points="289.5,423.5 291,423.5 291,413 292.5,413 292.5,400.5 294,400.5 294,400.5 295.5,400.5 295.5,406.4 297.75,406.4 297.75,407.9 300,407.9 300,406.15 302,406.15 302,404.53 304,404.53 304,413.85 306.25,413.85 306.25,414.85 308.5,414.85 308.5,436.22 310.5,436.22 310.5,437.79 312.5,437.79 312.5,437.64 314.5,437.64 314.5,437.5 316.5,437.5 316.5,437.36 318.5,437.36 318.5,437.96 320.5,437.96 320.5,437.82 322.5,437.82 322.5,439.85 325,439.85 325,441.35 327,441.35 327,441.15 328,441.15 328,448.65 329.5,448.65 329.5,455.94 331,455.94 331,467.98 333.25,467.98 333.25,466.72 335.5,466.72 335.5,466.72 337.75,466.72 337.75,463.29 340,463.29 340,464.07 342,464.07 342,463.29 344.23,463.29 344.23,463.29 346.47,463.29 346.47,466.6 348.7,466.6 348.7,392 351.1,392 351.1,391.6 353.5,391.6 353.5,382 355,382 355,374.25 357.5,374.25 357.5,372.75 360,372.75 360,369.5 361.2,369.5 361.2,370 362.5,370 362.5,373.17 364.27,373.17 364.27,369.78 366.03,369.78 366.03,371.6 367.8,371.6 367.8,401.27 369.6,401.27 369.6,404.25 371.4,404.25 371.4,404.04 373.2,404.04 373.2,404.68 375,404.68 375,400.38 376.97,400.38 376.97,405.06 378.93,405.06 378.93,403.42 380.9,403.42 380.9,405.82 382.87,405.82 382.87,404.03 384.83,404.03 384.83,404.2 386.8,404.2 386.8,439.55 388.87,439.55 388.87,439.21 390.93,439.21 390.93,438.88 393,438.88 393,435.25 394.75,435.25 394.75,435.75 396.5,435.75 396.5,436.25 398.25,436.25 398.25,440.99 400,440.99 400,440.99 401.75,440.99 401.75,440.49 403.5,440.49 403.5,439.24 405.25,439.24 405.25,438.74 407,438.74 407,419 408.8,419 408.8,379.8 410.9,379.8 410.9,376.5 413,376.5 413,375.12 414.75,375.12 414.75,373.35 416.5,373.35 416.5,377.88 418.25,377.88 418.25,374.33 420,374.33 420,370.05 422,370.05 422,374.99 424,374.99 424,374.49 425.9,374.49 425.9,370.31 427.8,370.31 427.8,375.97 429.7,375.97 429.7,405.97 431.76,405.97 431.76,408.79 433.82,408.79 433.82,408.79 435.88,408.79 435.88,406.29 437.94,406.29 437.94,402.5 440,402.5 440,403.26 441.88,403.26 441.88,403.01 443.75,403.01 443.75,402.76 445.62,402.76 445.62,401.12 447.5,401.12 447.5,434 449.25,434 449.25,440.7 451,440.7 451,442.7 453.25,442.7 453.25,442.7 455.5,442.7 455.5,443.3 457.75,443.3 457.75,443.3 460,443.3 460,441.27 461.93,441.27 461.93,438.77 463.85,438.77 463.85,440.25 465.77,440.25 465.77,438.14 467.7,438.14 467.7,437.02 468.8,437.02" fill="none" stroke="#000" stroke-width="1.6"/>
<polygon points="468.8,372.72 471,372.72 471,373.8 473.5,373.8 473.5,373.8 476,373.8 476,371.8 476.8,371.8 476.8,373.38 477.5,373.38 477.5,373.32 479.6,373.32 479.6,374.66 481.7,374.66 481.7,374.66 483.8,374.66 483.8,373 485.9,373 485.9,368.5 488,368.5 488,371 488.8,371 488.8,367.02 489.5,367.02 489.5,375.43 491.4,375.43 491.4,383.54 493.6,383.54 493.6,383.87 495.8,383.87 495.8,382.27 498,382.27 498,387.33 500.5,387.33 500.5,387.83 503,387.83 503,388.08 504.75,388.08 504.75,383.62 506.5,383.62 506.5,383.62 508.25,383.62 508.25,377.54 510,377.54 510,384.28 511.3,384.28 511.3,401.64 513.48,401.64 513.48,404.43 515.65,404.43 515.65,404.68 517.83,404.68 517.83,404.93 520,404.93 520,403.5 521.88,403.5 521.88,401.25 523.75,401.25 523.75,402.44 525.62,402.44 525.62,400.25 527.5,400.25 527.5,401.33 529.77,401.33 529.77,402 532.03,402 532.03,402.66 534.3,402.66 534.3,368.61 536.44,368.61 536.44,368.41 538.58,368.41 538.58,367.5 540.72,367.5 540.72,367.3 542.86,367.3 542.86,367.1 545,367.1 545,367.63 547.2,367.63 547.2,363.35 549.4,363.35 549.4,364.65 551.6,364.65 551.6,364.65 553.87,364.65 553.87,367.5 556.13,367.5 556.13,370.01 558.4,370.01 558.4,373.75 560.33,373.75 560.33,376.41 562.27,376.41 562.27,376.14 564.2,376.14 564.2,373.79 566.13,373.79 566.13,380 568.07,380 568.07,380 570,380 570,380.79 572.08,380.79 572.08,386.55 574.16,386.55 574.16,389.05 576.24,389.05 576.24,391.55 578.32,391.55 578.32,393.71 580.4,393.71 580.4,395.41 582.32,395.41 582.32,396.63 584.24,396.63 584.24,397.03 586.16,397.03 586.16,395.4 588.08,395.4 588.08,396.08 590,396.08 590,396.28 592.06,396.28 592.06,394.49 594.12,394.49 594.12,396.95 596.18,396.95 596.18,393.34 598.24,393.34 598.24,396.71 600.3,396.71 600.3,377.51 602.24,377.51 602.24,377.16 604.18,377.16 604.18,376.76 606.12,376.76 606.12,378.05 608.06,378.05 608.06,377.65 610,377.65 610,375 612,375 612,375 614,375 614,375.12 616,375.12 616,375.12 618,375.12 618,375.12 620,375.12 620,374.13 622.8,374.13 622.8,378.63 624.4,378.63 624.4,384.77 626.52,384.77 626.52,385.17 628.64,385.17 628.64,385.57 630.76,385.57 630.76,385.4 632.88,385.4 632.88,387.65 635,387.65 635,383.08 637.5,383.08 637.5,383.75 640,383.75 640,382.5 642.12,382.5 642.12,385 644.24,385 644.24,387.2 646.36,387.2 646.36,387.2 648.48,387.2 648.48,389.98 650.6,389.98 650.6,398.48 652.48,398.48 652.48,398.48 654.36,398.48 654.36,398.34 656.24,398.34 656.24,391.24 658.12,391.24 658.12,398.08 660,398.08 660,398.21 661.88,398.21 661.88,397 663.75,397 663.75,398.65 665.62,398.65 665.62,398.9 667.5,398.9 667.5,404.67 665.62,404.67 665.62,402.59 663.75,402.59 663.75,403.12 661.88,403.12 661.88,403 660,403 660,401.63 658.12,401.63 658.12,402.31 656.24,402.31 656.24,402.73 654.36,402.73 654.36,402.11 652.48,402.11 652.48,401.8 650.6,401.8 650.6,395.85 648.48,395.85 648.48,395.55 646.36,395.55 646.36,396.03 644.24,396.03 644.24,393.99 642.12,393.99 642.12,394.69 640,394.69 640,393.96 637.5,393.96 637.5,394.55 635,394.55 635,392.79 632.88,392.79 632.88,394 630.76,394 630.76,391.66 628.64,391.66 628.64,390.38 626.52,390.38 626.52,388.73 624.4,388.73 624.4,390.45 622.8,390.45 622.8,384.61 620,384.61 620,384.14 618,384.14 618,388.88 616,388.88 616,385.12 614,385.12 614,383.37 612,383.37 612,383.95 610,383.95 610,383.79 608.06,383.79 608.06,383.55 606.12,383.55 606.12,382.84 604.18,382.84 604.18,381.52 602.24,381.52 602.24,380.42 600.3,380.42 600.3,401.78 598.24,401.78 598.24,401.32 596.18,401.32 596.18,400.69 594.12,400.69 594.12,401.12 592.06,401.12 592.06,406.64 590,406.64 590,400.88 588.08,400.88 588.08,401.14 586.16,401.14 586.16,399.35 584.24,399.35 584.24,398.81 582.32,398.81 582.32,400.17 580.4,400.17 580.4,396.95 578.32,396.95 578.32,395.51 576.24,395.51 576.24,392.62 574.16,392.62 574.16,391.17 572.08,391.17 572.08,388.06 570,388.06 570,385.5 568.07,385.5 568.07,385.02 566.13,385.02 566.13,382.91 564.2,382.91 564.2,381.43 562.27,381.43 562.27,383.84 560.33,383.84 560.33,376.7 558.4,376.7 558.4,375.04 556.13,375.04 556.13,374 553.87,374 553.87,373.14 551.6,373.14 551.6,371.8 549.4,371.8 549.4,372.26 547.2,372.26 547.2,371.77 545,371.77 545,373.62 542.86,373.62 542.86,372.29 540.72,372.29 540.72,371.89 538.58,371.89 538.58,372.82 536.44,372.82 536.44,371.98 534.3,371.98 534.3,407.69 532.03,407.69 532.03,408.15 529.77,408.15 529.77,409.17 527.5,409.17 527.5,409.7 525.62,409.7 525.62,409.66 523.75,409.66 523.75,410.62 521.88,410.62 521.88,410.78 520,410.78 520,410.16 517.83,410.16 517.83,413.69 515.65,413.69 515.65,409.72 513.48,409.72 513.48,408.33 511.3,408.33 511.3,390.8 510,390.8 510,388.46 508.25,388.46 508.25,389.91 506.5,389.91 506.5,392.93 504.75,392.93 504.75,390.11 503,390.11 503,391.53 500.5,391.53 500.5,391.97 498,391.97 498,390.27 495.8,390.27 495.8,390.54 493.6,390.54 493.6,387.9 491.4,387.9 491.4,377.67 489.5,377.67 489.5,377.1 488.8,377.1 488.8,377.05 488,377.05 488,376.8 485.9,376.8 485.9,382.63 483.8,382.63 483.8,377.14 481.7,377.14 481.7,377.78 479.6,377.78 479.6,376.77 477.5,376.77 477.5,377.82 476.8,377.82 476.8,377.86 476,377.86 476,377.06 473.5,377.06 473.5,377.97 471,377.97 471,379.52 468.8,379.52" fill="#000" fill-opacity="0.92"/>
<polyline points="468.8,372.72 471,372.72 471,373.8 473.5,373.8 473.5,373.8 476,373.8 476,371.8 476.8,371.8 476.8,373.38 477.5,373.38 477.5,373.32 479.6,373.32 479.6,374.66 481.7,374.66 481.7,374.66 483.8,374.66 483.8,373 485.9,373 485.9,368.5 488,368.5 488,371 488.8,371 488.8,367.02 489.5,367.02 489.5,375.43 491.4,375.43 491.4,383.54 493.6,383.54 493.6,383.87 495.8,383.87 495.8,382.27 498,382.27 498,387.33 500.5,387.33 500.5,387.83 503,387.83 503,388.08 504.75,388.08 504.75,383.62 506.5,383.62 506.5,383.62 508.25,383.62 508.25,377.54 510,377.54 510,384.28 511.3,384.28 511.3,401.64 513.48,401.64 513.48,404.43 515.65,404.43 515.65,404.68 517.83,404.68 517.83,404.93 520,404.93 520,403.5 521.88,403.5 521.88,401.25 523.75,401.25 523.75,402.44 525.62,402.44 525.62,400.25 527.5,400.25 527.5,401.33 529.77,401.33 529.77,402 532.03,402 532.03,402.66 534.3,402.66 534.3,368.61 536.44,368.61 536.44,368.41 538.58,368.41 538.58,367.5 540.72,367.5 540.72,367.3 542.86,367.3 542.86,367.1 545,367.1 545,367.63 547.2,367.63 547.2,363.35 549.4,363.35 549.4,364.65 551.6,364.65 551.6,364.65 553.87,364.65 553.87,367.5 556.13,367.5 556.13,370.01 558.4,370.01 558.4,373.75 560.33,373.75 560.33,376.41 562.27,376.41 562.27,376.14 564.2,376.14 564.2,373.79 566.13,373.79 566.13,380 568.07,380 568.07,380 570,380 570,380.79 572.08,380.79 572.08,386.55 574.16,386.55 574.16,389.05 576.24,389.05 576.24,391.55 578.32,391.55 578.32,393.71 580.4,393.71 580.4,395.41 582.32,395.41 582.32,396.63 584.24,396.63 584.24,397.03 586.16,397.03 586.16,395.4 588.08,395.4 588.08,396.08 590,396.08 590,396.28 592.06,396.28 592.06,394.49 594.12,394.49 594.12,396.95 596.18,396.95 596.18,393.34 598.24,393.34 598.24,396.71 600.3,396.71 600.3,377.51 602.24,377.51 602.24,377.16 604.18,377.16 604.18,376.76 606.12,376.76 606.12,378.05 608.06,378.05 608.06,377.65 610,377.65 610,375 612,375 612,375 614,375 614,375.12 616,375.12 616,375.12 618,375.12 618,375.12 620,375.12 620,374.13 622.8,374.13 622.8,378.63 624.4,378.63 624.4,384.77 626.52,384.77 626.52,385.17 628.64,385.17 628.64,385.57 630.76,385.57 630.76,385.4 632.88,385.4 632.88,387.65 635,387.65 635,383.08 637.5,383.08 637.5,383.75 640,383.75 640,382.5 642.12,382.5 642.12,385 644.24,385 644.24,387.2 646.36,387.2 646.36,387.2 648.48,387.2 648.48,389.98 650.6,389.98 650.6,398.48 652.48,398.48 652.48,398.48 654.36,398.48 654.36,398.34 656.24,398.34 656.24,391.24 658.12,391.24 658.12,398.08 660,398.08 660,398.21 661.88,398.21 661.88,397 663.75,397 663.75,398.65 665.62,398.65 665.62,398.9 667.5,398.9" fill="none" stroke="#000" stroke-width="1.6"/>
<polygon points="667.5,368.25 669.38,368.25 669.38,369.33 671.25,369.33 671.25,370.99 673.12,370.99 673.12,366.37 675,366.37 675,370.96 677,370.96 677,371.3 679,371.3 679,373.01 681,373.01 681,372.45 683,372.45 683,383.12 685,383.12 685,388.37 687.12,388.37 687.12,387.5 689.25,387.5 689.25,387.5 691.38,387.5 691.38,389.54 693.5,389.54 693.5,405.37 695.37,405.37 695.37,405.66 697.24,405.66 697.24,405.94 699.11,405.94 699.11,404.29 700.99,404.29 700.99,406.29 702.86,406.29 702.86,406.57 704.73,406.57 704.73,408.81 706.6,408.81 706.6,376.46 709,376.46 709,371.78 711,371.78 711,365.72 713,365.72 713,366.99 715,366.99 715,368.62 717.35,368.62 717.35,366.22 719.7,366.22 719.7,386.77 721.76,386.77 721.76,386.44 723.82,386.44 723.82,385 725.88,385 725.88,385 727.94,385 727.94,388.17 730,388.17 730,388.17 732.12,388.17 732.12,390.67 734.23,390.67 734.23,392.23 736.35,392.23 736.35,394.7 738.47,394.7 738.47,391.76 740.58,391.76 740.58,395 742.7,395 742.7,399.5 744.8,399.5 744.8,388.5 745.9,388.5 745.9,370.43 747,370.43 747,360.57 748.75,360.57 748.75,368.12 750.5,368.12 750.5,364 752.25,364 752.25,364.73 754,364.73 754,367.97 755.83,367.97 755.83,370.47 757.67,370.47 757.67,372.97 759.5,372.97 759.5,385.9 761.33,385.9 761.33,388.07 763.17,388.07 763.17,390.57 765,390.57 765,387.71 766.75,387.71 766.75,390.62 768.5,390.62 768.5,386.77 770.25,386.77 770.25,390.2 772,390.2 772,388.5 772.6,388.5 772.6,385.91 773.5,385.91 773.5,395.5 776,395.5 776,393.04 778.1,393.04 778.1,399.1 780.2,399.1 780.2,395.89 782.3,395.89 782.3,398.83 784.4,398.83 784.4,399.03 786.5,399.03 786.5,403.66 784.4,403.66 784.4,404.2 782.3,404.2 782.3,402.79 780.2,402.79 780.2,402.83 778.1,402.83 778.1,401.37 776,401.37 776,403.29 773.5,403.29 773.5,394.87 772.6,394.87 772.6,395.38 772,395.38 772,397.64 770.25,397.64 770.25,395.26 768.5,395.26 768.5,394.21 766.75,394.21 766.75,393.86 765,393.86 765,393.51 763.17,393.51 763.17,392.12 761.33,392.12 761.33,395.43 759.5,395.43 759.5,377.05 757.67,377.05 757.67,376.16 755.83,376.16 755.83,373.75 754,373.75 754,374.5 752.25,374.5 752.25,374.48 750.5,374.48 750.5,372.44 748.75,372.44 748.75,375.77 747,375.77 747,375.19 745.9,375.19 745.9,391.52 744.8,391.52 744.8,408.51 742.7,408.51 742.7,400.83 740.58,400.83 740.58,398.97 738.47,398.97 738.47,397.52 736.35,397.52 736.35,401.08 734.23,401.08 734.23,396.15 732.12,396.15 732.12,393.91 730,393.91 730,394.41 727.94,394.41 727.94,391.59 725.88,391.59 725.88,391.46 723.82,391.46 723.82,389.92 721.76,389.92 721.76,389.97 719.7,389.97 719.7,376.66 717.35,376.66 717.35,374.02 715,374.02 715,379.75 713,379.75 713,376.69 711,376.69 711,374.93 709,374.93 709,378.46 706.6,378.46 706.6,412.51 704.73,412.51 704.73,410.98 702.86,410.98 702.86,411.58 700.99,411.58 700.99,411.74 699.11,411.74 699.11,414.59 697.24,414.59 697.24,410.68 695.37,410.68 695.37,413.42 693.5,413.42 693.5,393.63 691.38,393.63 691.38,393.48 689.25,393.48 689.25,391.88 687.12,391.88 687.12,391.76 685,391.76 685,388.93 683,388.93 683,381.4 681,381.4 681,384.26 679,384.26 679,381.36 677,381.36 677,376.75 675,376.75 675,375.47 673.12,375.47 673.12,375.61 671.25,375.61 671.25,373.22 669.38,373.22 669.38,372.44 667.5,372.44" fill="#000" fill-opacity="0.92"/>
<polyline points="667.5,368.25 669.38,368.25 669.38,369.33 671.25,369.33 671.25,370.99 673.12,370.99 673.12,366.37 675,366.37 675,370.96 677,370.96 677,371.3 679,371.3 679,373.01 681,373.01 681,372.45 683,372.45 683,383.12 685,383.12 685,388.37 687.12,388.37 687.12,387.5 689.25,387.5 689.25,387.5 691.38,387.5 691.38,389.54 693.5,389.54 693.5,405.37 695.37,405.37 695.37,405.66 697.24,405.66 697.24,405.94 699.11,405.94 699.11,404.29 700.99,404.29 700.99,406.29 702.86,406.29 702.86,406.57 704.73,406.57 704.73,408.81 706.6,408.81 706.6,376.46 709,376.46 709,371.78 711,371.78 711,365.72 713,365.72 713,366.99 715,366.99 715,368.62 717.35,368.62 717.35,366.22 719.7,366.22 719.7,386.77 721.76,386.77 721.76,386.44 723.82,386.44 723.82,385 725.88,385 725.88,385 727.94,385 727.94,388.17 730,388.17 730,388.17 732.12,388.17 732.12,390.67 734.23,390.67 734.23,392.23 736.35,392.23 736.35,394.7 738.47,394.7 738.47,391.76 740.58,391.76 740.58,395 742.7,395 742.7,399.5 744.8,399.5 744.8,388.5 745.9,388.5 745.9,370.43 747,370.43 747,360.57 748.75,360.57 748.75,368.12 750.5,368.12 750.5,364 752.25,364 752.25,364.73 754,364.73 754,367.97 755.83,367.97 755.83,370.47 757.67,370.47 757.67,372.97 759.5,372.97 759.5,385.9 761.33,385.9 761.33,388.07 763.17,388.07 763.17,390.57 765,390.57 765,387.71 766.75,387.71 766.75,390.62 768.5,390.62 768.5,386.77 770.25,386.77 770.25,390.2 772,390.2 772,388.5 772.6,388.5 772.6,385.91 773.5,385.91 773.5,395.5 776,395.5 776,393.04 778.1,393.04 778.1,399.1 780.2,399.1 780.2,395.89 782.3,395.89 782.3,398.83 784.4,398.83 784.4,399.03 786.5,399.03" fill="none" stroke="#000" stroke-width="1.6"/>
<polygon points="786.5,367 788.25,367 788.25,370.46 790,370.46 790,371.59 791.88,371.59 791.88,372.49 793.75,372.49 793.75,372.74 795.62,372.74 795.62,371.26 797.5,371.26 797.5,369.13 799.38,369.13 799.38,372.35 801.25,372.35 801.25,372.6 803.12,372.6 803.12,372.85 805,372.85 805,372 807.03,372 807.03,372 809.06,372 809.06,372.12 811.09,372.12 811.09,368.01 813.11,368.01 813.11,374.58 815.14,374.58 815.14,374.58 817.17,374.58 817.17,374.58 819.2,374.58 819.2,384.93 821.36,384.93 821.36,384.74 823.52,384.74 823.52,384.94 825.68,384.94 825.68,385.14 827.84,385.14 827.84,387.02 830,387.02 830,387.12 831.7,387.12 831.7,387.62 833,387.62 833,386.12 834.94,386.12 834.94,386.38 836.88,386.38 836.88,386.62 838.81,386.62 838.81,388 840.75,388 840.75,387.12 842.69,387.12 842.69,382.65 844.62,382.65 844.62,389.64 846.56,389.64 846.56,384.23 848.5,384.23 848.5,397.91 850.42,397.91 850.42,402.81 852.33,402.81 852.33,400 854.25,400 854.25,400 856.17,400 856.17,403.74 858.08,403.74 858.08,403.74 860,403.74 860,405.02 862,405.02 862,405.4 864,405.4 864,405.9 866,405.9 866,406.52 868,406.52 868,400.02 869.96,400.02 869.96,403.73 871.92,403.73 871.92,403.73 873.88,403.73 873.88,401.64 875.84,401.64 875.84,401.84 877.8,401.84 877.8,384.84 879.4,384.84 879.4,368.1 881.52,368.1 881.52,366 883.64,366 883.64,366.99 885.76,366.99 885.76,368.93 887.88,368.93 887.88,366.12 890,366.12 890,367.97 891.86,367.97 891.86,367.5 893.72,367.5 893.72,368.12 895.58,368.12 895.58,367.29 897.44,367.29 897.44,364.79 899.3,364.79 899.3,359.14 901.13,359.14 901.13,361.36 902.97,361.36 902.97,365.79 904.8,365.79 904.8,368.29 906.63,368.29 906.63,368.07 908.47,368.07 908.47,370.57 910.3,370.57 910.3,377.72 910.8,377.72 910.8,384.37 912.83,384.37 912.83,383.9 914.86,383.9 914.86,383.71 916.89,383.71 916.89,380.27 918.91,380.27 918.91,384.29 920.94,384.29 920.94,386.61 922.97,386.61 922.97,386.9 925,386.9 925,385.12 927.09,385.12 927.09,385.38 929.17,385.38 929.17,385.62 931.26,385.62 931.26,385.88 933.35,385.88 933.35,387.99 935.44,387.99 935.44,381.53 937.53,381.53 937.53,386.62 939.61,386.62 939.61,386.88 941.7,386.88 941.7,393.36 943.73,393.36 943.73,394.58 945.77,394.58 945.77,394.99 947.8,394.99 947.8,394.24 949.83,394.24 949.83,400.61 951.87,400.61 951.87,400.83 953.9,400.83 953.9,399.44 955.93,399.44 955.93,399.67 957.97,399.67 957.97,399.89 960,399.89 960,397.68 961.83,397.68 961.83,400.77 963.67,400.77 963.67,400.98 965.5,400.98 965.5,397.64 967.33,397.64 967.33,401.31 969.17,401.31 969.17,402.15 971,402.15 971,368.73 972.88,368.73 972.88,368.73 974.76,368.73 974.76,366.01 976.64,366.01 976.64,368.12 978.52,368.12 978.52,367.24 980.4,367.24 980.4,366.24 982.5,366.24 982.5,360.27 984.6,360.27 984.6,361.36 986.7,361.36 986.7,364 988.8,364 988.8,365 990.74,365 990.74,368.08 992.69,368.08 992.69,370.58 994.63,370.58 994.63,363.92 996.57,363.92 996.57,372.1 998.51,372.1 998.51,370 1000.46,370 1000.46,372.5 1002.4,372.5 1002.4,385.42 1003,385.42 1003,396.89 1005.25,396.89 1005.25,396.89 1007.5,396.89 1007.5,396 1009.75,396 1009.75,396 1012,396 1012,391.18 1012.9,391.18 1012.9,384.5 1014,384.5 1014,392.14 1016,392.14 1016,393.4 1018,393.4 1018,393.55 1020,393.55 1020,393.09 1022,393.09 1022,389.34 1024,389.34 1024,393.56 1026,393.56 1026,393.72 1028,393.72 1028,393.87 1030,393.87 1030,389.29 1032,389.29 1032,394.55 1034,394.55 1034,394.7 1036,394.7 1036,394.52 1038,394.52 1038,394.45 1040,394.45 1040,394.61 1042.08,394.61 1042.08,390.87 1044.17,390.87 1044.17,393.44 1046.25,393.44 1046.25,394.05 1048.33,394.05 1048.33,394.22 1050.42,394.22 1050.42,395.38 1052.5,395.38 1052.5,395.55 1054.58,395.55 1054.58,395.95 1056.67,395.95 1056.67,391.45 1058.75,391.45 1058.75,395.14 1060.83,395.14 1060.83,395.32 1062.92,395.32 1062.92,396.97 1065,396.97 1065,405.71 1062.92,405.71 1062.92,400.32 1060.83,400.32 1060.83,400.01 1058.75,400.01 1058.75,399.95 1056.67,399.95 1056.67,399.23 1054.58,399.23 1054.58,404.44 1052.5,404.44 1052.5,399.43 1050.42,399.43 1050.42,399.3 1048.33,399.3 1048.33,400.09 1046.25,400.09 1046.25,399.76 1044.17,399.76 1044.17,398.25 1042.08,398.25 1042.08,398.22 1040,398.22 1040,398.83 1038,398.83 1038,399.24 1036,399.24 1036,397.74 1034,397.74 1034,398.92 1032,398.92 1032,398.93 1030,398.93 1030,397.31 1028,397.31 1028,398.52 1026,398.52 1026,397.27 1024,397.27 1024,397.14 1022,397.14 1022,398.49 1020,398.49 1020,396.72 1018,396.72 1018,398.16 1016,398.16 1016,397.85 1014,397.85 1014,394.02 1012.9,394.02 1012.9,398.88 1012,398.88 1012,400.65 1009.75,400.65 1009.75,400.1 1007.5,400.1 1007.5,403.05 1005.25,403.05 1005.25,400.55 1003,400.55 1003,390.3 1002.4,390.3 1002.4,380.36 1000.46,380.36 1000.46,378.3 998.51,378.3 998.51,378.89 996.57,378.89 996.57,376.1 994.63,376.1 994.63,375.94 992.69,375.94 992.69,377.8 990.74,377.8 990.74,374.68 988.8,374.68 988.8,377.6 986.7,377.6 986.7,375.64 984.6,375.64 984.6,375.91 982.5,375.91 982.5,377.1 980.4,377.1 980.4,373.89 978.52,373.89 978.52,372.95 976.64,372.95 976.64,374.99 974.76,374.99 974.76,373.26 972.88,373.26 972.88,371.33 971,371.33 971,405.07 969.17,405.07 969.17,405.1 967.33,405.1 967.33,404.66 965.5,404.66 965.5,404.66 963.67,404.66 963.67,404.83 961.83,404.83 961.83,404.45 960,404.45 960,404.74 957.97,404.74 957.97,403.85 955.93,403.85 955.93,404.58 953.9,404.58 953.9,406.5 951.87,406.5 951.87,402.99 949.83,402.99 949.83,402.89 947.8,402.89 947.8,403.01 945.77,403.01 945.77,404.11 943.73,404.11 943.73,404.01 941.7,404.01 941.7,391.05 939.61,391.05 939.61,390.58 937.53,390.58 937.53,391.68 935.44,391.68 935.44,390.79 933.35,390.79 933.35,390.39 931.26,390.39 931.26,395.99 929.17,395.99 929.17,395.89 927.09,395.89 927.09,389.45 925,389.45 925,390.47 922.97,390.47 922.97,389.42 920.94,389.42 920.94,389.06 918.91,389.06 918.91,389.53 916.89,389.53 916.89,388.05 914.86,388.05 914.86,388.96 912.83,388.96 912.83,388.31 910.8,388.31 910.8,381.35 910.3,381.35 910.3,374.85 908.47,374.85 908.47,376.57 906.63,376.57 906.63,375.2 904.8,375.2 904.8,375.73 902.97,375.73 902.97,373.17 901.13,373.17 901.13,372.4 899.3,372.4 899.3,373.03 897.44,373.03 897.44,374.54 895.58,374.54 895.58,375.81 893.72,375.81 893.72,379.83 891.86,379.83 891.86,373.61 890,373.61 890,374.99 887.88,374.99 887.88,373.82 885.76,373.82 885.76,372.92 883.64,372.92 883.64,371.88 881.52,371.88 881.52,372.11 879.4,372.11 879.4,389.59 877.8,389.59 877.8,408.24 875.84,408.24 875.84,408.64 873.88,408.64 873.88,409.53 871.92,409.53 871.92,410.69 869.96,410.69 869.96,410 868,410 868,410.85 866,410.85 866,411.4 864,411.4 864,415.62 862,415.62 862,410.71 860,410.71 860,410.23 858.08,410.23 858.08,409.08 856.17,409.08 856.17,408.8 854.25,408.8 854.25,407.56 852.33,407.56 852.33,406.95 850.42,406.95 850.42,405.08 848.5,405.08 848.5,395.81 846.56,395.81 846.56,395.49 844.62,395.49 844.62,395.28 842.69,395.28 842.69,393.91 840.75,393.91 840.75,394.57 838.81,394.57 838.81,392.66 836.88,392.66 836.88,393.3 834.94,393.3 834.94,391.76 833,391.76 833,396.76 831.7,396.76 831.7,396.34 830,396.34 830,391.72 827.84,391.72 827.84,391.23 825.68,391.23 825.68,390.1 823.52,390.1 823.52,389.23 821.36,389.23 821.36,390.02 819.2,390.02 819.2,383.76 817.17,383.76 817.17,378.4 815.14,378.4 815.14,383.2 813.11,383.2 813.11,378.47 811.09,378.47 811.09,378.99 809.06,378.99 809.06,377.64 807.03,377.64 807.03,377.53 805,377.53 805,377.78 803.12,377.78 803.12,381.12 801.25,381.12 801.25,377.07 799.38,377.07 799.38,377.85 797.5,377.85 797.5,376.15 795.62,376.15 795.62,376.77 793.75,376.77 793.75,376.02 791.88,376.02 791.88,375.94 790,375.94 790,373.46 788.25,373.46 788.25,371.18 786.5,371.18" fill="#000" fill-opacity="0.92"/>
<polyline points="786.5,367 788.25,367 788.25,370.46 790,370.46 790,371.59 791.88,371.59 791.88,372.49 793.75,372.49 793.75,372.74 795.62,372.74 795.62,371.26 797.5,371.26 797.5,369.13 799.38,369.13 799.38,372.35 801.25,372.35 801.25,372.6 803.12,372.6 803.12,372.85 805,372.85 805,372 807.03,372 807.03,372 809.06,372 809.06,372.12 811.09,372.12 811.09,368.01 813.11,368.01 813.11,374.58 815.14,374.58 815.14,374.58 817.17,374.58 817.17,374.58 819.2,374.58 819.2,384.93 821.36,384.93 821.36,384.74 823.52,384.74 823.52,384.94 825.68,384.94 825.68,385.14 827.84,385.14 827.84,387.02 830,387.02 830,387.12 831.7,387.12 831.7,387.62 833,387.62 833,386.12 834.94,386.12 834.94,386.38 836.88,386.38 836.88,386.62 838.81,386.62 838.81,388 840.75,388 840.75,387.12 842.69,387.12 842.69,382.65 844.62,382.65 844.62,389.64 846.56,389.64 846.56,384.23 848.5,384.23 848.5,397.91 850.42,397.91 850.42,402.81 852.33,402.81 852.33,400 854.25,400 854.25,400 856.17,400 856.17,403.74 858.08,403.74 858.08,403.74 860,403.74 860,405.02 862,405.02 862,405.4 864,405.4 864,405.9 866,405.9 866,406.52 868,406.52 868,400.02 869.96,400.02 869.96,403.73 871.92,403.73 871.92,403.73 873.88,403.73 873.88,401.64 875.84,401.64 875.84,401.84 877.8,401.84 877.8,384.84 879.4,384.84 879.4,368.1 881.52,368.1 881.52,366 883.64,366 883.64,366.99 885.76,366.99 885.76,368.93 887.88,368.93 887.88,366.12 890,366.12 890,367.97 891.86,367.97 891.86,367.5 893.72,367.5 893.72,368.12 895.58,368.12 895.58,367.29 897.44,367.29 897.44,364.79 899.3,364.79 899.3,359.14 901.13,359.14 901.13,361.36 902.97,361.36 902.97,365.79 904.8,365.79 904.8,368.29 906.63,368.29 906.63,368.07 908.47,368.07 908.47,370.57 910.3,370.57 910.3,377.72 910.8,377.72 910.8,384.37 912.83,384.37 912.83,383.9 914.86,383.9 914.86,383.71 916.89,383.71 916.89,380.27 918.91,380.27 918.91,384.29 920.94,384.29 920.94,386.61 922.97,386.61 922.97,386.9 925,386.9 925,385.12 927.09,385.12 927.09,385.38 929.17,385.38 929.17,385.62 931.26,385.62 931.26,385.88 933.35,385.88 933.35,387.99 935.44,387.99 935.44,381.53 937.53,381.53 937.53,386.62 939.61,386.62 939.61,386.88 941.7,386.88 941.7,393.36 943.73,393.36 943.73,394.58 945.77,394.58 945.77,394.99 947.8,394.99 947.8,394.24 949.83,394.24 949.83,400.61 951.87,400.61 951.87,400.83 953.9,400.83 953.9,399.44 955.93,399.44 955.93,399.67 957.97,399.67 957.97,399.89 960,399.89 960,397.68 961.83,397.68 961.83,400.77 963.67,400.77 963.67,400.98 965.5,400.98 965.5,397.64 967.33,397.64 967.33,401.31 969.17,401.31 969.17,402.15 971,402.15 971,368.73 972.88,368.73 972.88,368.73 974.76,368.73 974.76,366.01 976.64,366.01 976.64,368.12 978.52,368.12 978.52,367.24 980.4,367.24 980.4,366.24 982.5,366.24 982.5,360.27 984.6,360.27 984.6,361.36 986.7,361.36 986.7,364 988.8,364 988.8,365 990.74,365 990.74,368.08 992.69,368.08 992.69,370.58 994.63,370.58 994.63,363.92 996.57,363.92 996.57,372.1 998.51,372.1 998.51,370 1000.46,370 1000.46,372.5 1002.4,372.5 1002.4,385.42 1003,385.42 1003,396.89 1005.25,396.89 1005.25,396.89 1007.5,396.89 1007.5,396 1009.75,396 1009.75,396 1012,396 1012,391.18 1012.9,391.18 1012.9,384.5 1014,384.5 1014,392.14 1016,392.14 1016,393.4 1018,393.4 1018,393.55 1020,393.55 1020,393.09 1022,393.09 1022,389.34 1024,389.34 1024,393.56 1026,393.56 1026,393.72 1028,393.72 1028,393.87 1030,393.87 1030,389.29 1032,389.29 1032,394.55 1034,394.55 1034,394.7 1036,394.7 1036,394.52 1038,394.52 1038,394.45 1040,394.45 1040,394.61 1042.08,394.61 1042.08,390.87 1044.17,390.87 1044.17,393.44 1046.25,393.44 1046.25,394.05 1048.33,394.05 1048.33,394.22 1050.42,394.22 1050.42,395.38 1052.5,395.38 1052.5,395.55 1054.58,395.55 1054.58,395.95 1056.67,395.95 1056.67,391.45 1058.75,391.45 1058.75,395.14 1060.83,395.14 1060.83,395.32 1062.92,395.32 1062.92,396.97 1065,396.97" fill="none" stroke="#000" stroke-width="1.6"/>
<polygon points="1065,370 1067,370 1067,366.35 1069.4,366.35 1069.4,367.35 1072,367.35 1072,371.95 1074,371.95 1074,366.33 1076,366.33 1076,373.22 1078,373.22 1078,373.72 1080,373.72 1080,374.17 1082,374.17 1082,374.57 1084,374.57 1084,373.21 1086,373.21 1086,369.92 1088,369.92 1088,376.11 1090,376.11 1090,370.17 1091.87,370.17 1091.87,377.31 1093.73,377.31 1093.73,377.5 1095.6,377.5 1095.6,379.73 1096,379.73 1096,382.05 1098,382.05 1098,384.39 1100,384.39 1100,384.62 1102,384.62 1102,384.85 1104,384.85 1104,383.19 1106,383.19 1106,384.04 1108,384.04 1108,378.44 1110,378.44 1110,383.09 1112.12,383.09 1112.12,383.28 1114.25,383.28 1114.25,384.62 1116.38,384.62 1116.38,380.02 1118.5,380.02 1118.5,384.99 1120.62,384.99 1120.62,386.66 1122.75,386.66 1122.75,386.85 1124.88,386.85 1124.88,380.6 1127,380.6 1127,395.37 1128,395.37 1128,404.37 1130,404.37 1130,404.47 1132,404.47 1132,403.67 1134,403.67 1134,403.77 1136,403.77 1136,403.87 1138,403.87 1138,402.95 1140,402.95 1140,403.06 1142.04,403.06 1142.04,403.19 1144.08,403.19 1144.08,403.62 1146.11,403.62 1146.11,405.28 1148.15,405.28 1148.15,405.4 1150.19,405.4 1150.19,405.53 1152.22,405.53 1152.22,404.41 1154.26,404.41 1154.26,404.53 1156.3,404.53 1156.3,380.1 1158.4,380.1 1158.4,370 1160.33,370 1160.33,370 1162.27,370 1162.27,370 1164.2,370 1164.2,370 1166.13,370 1166.13,371.63 1168.07,371.63 1168.07,369.53 1170,369.53 1170,364.65 1172.08,364.65 1172.08,368.28 1174.15,368.28 1174.15,365 1176.22,365 1176.22,362.5 1178.3,362.5 1178.3,362.5 1180.18,362.5 1180.18,360.94 1182.06,360.94 1182.06,365.89 1183.94,365.89 1183.94,365.89 1185.82,365.89 1185.82,368.39 1187.7,368.39 1187.7,386.56 1189.75,386.56 1189.75,386.3 1191.8,386.3 1191.8,384.96 1193.85,384.96 1193.85,385.61 1195.9,385.61 1195.9,381.61 1197.95,381.61 1197.95,385.33 1200,385.33 1200,386.2 1202,386.2 1202,386.2 1204,386.2 1204,387.04 1206,387.04 1206,387.04 1208,387.04 1208,385 1210,385 1210,385 1212,385 1212,387.5 1214,387.5 1214,388.15 1216,388.15 1216,388.15 1218,388.15 1218,385.08 1220,385.08 1220,392.52 1222,392.52 1222,397.94 1224.04,397.94 1224.04,396.54 1226.08,396.54 1226.08,392.95 1228.12,392.95 1228.12,396.85 1230.15,396.85 1230.15,397.18 1232.19,397.18 1232.19,397.34 1234.23,397.34 1234.23,394.15 1236.27,394.15 1236.27,398.28 1238.31,398.28 1238.31,398.43 1240.35,398.43 1240.35,398.46 1242.38,398.46 1242.38,398.62 1244.42,398.62 1244.42,398.77 1246.46,398.77 1246.46,399.72 1248.5,399.72 1248.5,381.89 1249.5,381.89 1249.5,370.19 1251.6,370.19 1251.6,367.78 1253.7,367.78 1253.7,368.89 1255.8,368.89 1255.8,368.89 1257.9,368.89 1257.9,368.89 1260,368.89 1260,368.12 1262.22,368.12 1262.22,368.12 1264.45,368.12 1264.45,362.5 1266.68,362.5 1266.68,366.89 1268.9,366.89 1268.9,365.88 1270.93,365.88 1270.93,368.85 1272.97,368.85 1272.97,368.85 1275,368.85 1275,371.35 1276.75,371.35 1276.75,370.17 1278.5,370.17 1278.5,370.17 1280.25,370.17 1280.25,372.67 1282,372.67 1282,390.69 1284,390.69 1284,390.03 1286,390.03 1286,389.26 1288,389.26 1288,392.22 1290,392.22 1290,392.9 1292,392.9 1292,391.78 1294,391.78 1294,391.56 1296,391.56 1296,391.33 1298,391.33 1298,392.42 1300,392.42 1300,388.27 1302,388.27 1302,392.77 1304,392.77 1304,391.25 1306,391.25 1306,391.35 1308,391.35 1308,391.45 1310,391.45 1310,386.62 1312,386.62 1312,391.65 1314,391.65 1314,387.61 1316,387.61 1316,392.4 1318,392.4 1318,392.61 1320,392.61 1320,392.25 1321.97,392.25 1321.97,392.43 1323.95,392.43 1323.95,392.61 1325.92,392.61 1325.92,395.17 1327.89,395.17 1327.89,395.36 1329.86,395.36 1329.86,393 1331.84,393 1331.84,395.33 1333.81,395.33 1333.81,389.52 1335.78,389.52 1335.78,395.7 1337.75,395.7 1337.75,393.73 1339.73,393.73 1339.73,389.57 1341.7,389.57 1341.7,388.75 1342.7,388.75 1342.7,384.08 1344.75,384.08 1344.75,382.88 1346.8,382.88 1346.8,382.46 1348.85,382.46 1348.85,378.72 1350.9,378.72 1350.9,382.5 1352.95,382.5 1352.95,382.79 1355,382.79 1355,381.58 1357,381.58 1357,381.58 1359,381.58 1359,380.05 1361,380.05 1361,380.05 1363,380.05 1363,380.05 1365,380.05 1365,380.34 1367,380.34 1367,377.5 1369,377.5 1369,378.21 1371,378.21 1371,375.57 1373,375.57 1373,374.4 1375.2,374.4 1375.2,384.81 1376.2,384.81 1376.2,387.07 1378.17,387.07 1378.17,386.93 1380.14,386.93 1380.14,387.81 1382.11,387.81 1382.11,387.66 1384.09,387.66 1384.09,387.52 1386.06,387.52 1386.06,387.51 1388.03,387.51 1388.03,387.37 1390,387.37 1390,387.42 1391.94,387.42 1391.94,387.93 1393.88,387.93 1393.88,382.61 1395.81,382.61 1395.81,385.93 1397.75,385.93 1397.75,387.31 1399.69,387.31 1399.69,386.46 1401.62,386.46 1401.62,386.71 1403.56,386.71 1403.56,385.02 1405.5,385.02 1405.5,390.5 1406.6,390.5 1406.6,389.29 1408.51,389.29 1408.51,395.17 1410.43,395.17 1410.43,395.45 1412.34,395.45 1412.34,396 1414.26,396 1414.26,396.29 1416.17,396.29 1416.17,392.16 1418.09,392.16 1418.09,397.15 1420,397.15 1420,397.46 1422.13,397.46 1422.13,397.8 1424.27,397.8 1424.27,398.67 1426.4,398.67 1426.4,398.52 1428.53,398.52 1428.53,398.27 1430.67,398.27 1430.67,398.6 1432.8,398.6 1432.8,391.25 1433.8,391.25 1433.8,382.85 1435.9,382.85 1435.9,377.6 1438,377.6 1438,375.8 1440,375.8 1440,375.8 1442,375.8 1442,376.16 1444,376.16 1444,376.16 1446,376.16 1446,376.16 1448,376.16 1448,369.82 1450,369.82 1450,376.17 1452.3,376.17 1452.3,375.2 1454.6,375.2 1454.6,367.44 1456.9,367.44 1456.9,373.77 1458.98,373.77 1458.98,376.27 1461.06,376.27 1461.06,377.89 1463.14,377.89 1463.14,380.39 1465.22,380.39 1465.22,378.61 1467.3,378.61 1467.3,385.91 1468.4,385.91 1468.4,390.01 1470.33,390.01 1470.33,390.66 1472.27,390.66 1472.27,388.16 1474.2,388.16 1474.2,388.41 1476.13,388.41 1476.13,385.76 1478.07,385.76 1478.07,387.5 1480,387.5 1480,387.5 1482,387.5 1482,388.38 1484,388.38 1484,388.38 1486,388.38 1486,386.87 1488.17,386.87 1488.17,387.18 1490.33,387.18 1490.33,387.18 1492.5,387.18 1492.5,388.18 1494.23,388.18 1494.23,389.27 1495.97,389.27 1495.97,391.77 1497.7,391.77 1497.7,398.82 1499.62,398.82 1499.62,399.66 1501.54,399.66 1501.54,393.29 1503.47,393.29 1503.47,399.88 1505.39,399.88 1505.39,397.76 1507.31,397.76 1507.31,398.32 1509.23,398.32 1509.23,398.43 1511.16,398.43 1511.16,398.54 1513.08,398.54 1513.08,398.03 1515,398.03 1515,399.73 1517.17,399.73 1517.17,398.42 1519.33,398.42 1519.33,398 1521.5,398 1521.5,398 1523.67,398 1523.67,396.31 1525.83,396.31 1525.83,398 1528,398 1528,390 1528.6,390 1528.6,378.5 1531.2,378.5 1531.2,375.13 1533.4,375.13 1533.4,374.63 1535.6,374.63 1535.6,373.8 1537.8,373.8 1537.8,373.25 1540,373.25 1540,372.5 1541.77,372.5 1541.77,372.51 1543.53,372.51 1543.53,371.49 1545.3,371.49 1545.3,371.49 1547.53,371.49 1547.53,372.5 1549.75,372.5 1549.75,372.5 1551.97,372.5 1551.97,375 1554.2,375 1554.2,377.5 1556.17,377.5 1556.17,377.5 1558.15,377.5 1558.15,377.5 1560.12,377.5 1560.12,377.5 1562.1,377.5 1562.1,382.05 1564.08,382.05 1564.08,382.05 1566.05,382.05 1566.05,382.05 1568.03,382.05 1568.03,382.72 1570,382.72 1570,382.72 1572.2,382.72 1572.2,377.88 1574.4,377.88 1574.4,375.3 1576.6,375.3 1576.6,378.62 1578.8,378.62 1578.8,378.62 1580.83,378.62 1580.83,380 1582.87,380 1582.87,382.5 1584.9,382.5 1584.9,380.03 1586.93,380.03 1586.93,387.67 1588.97,387.67 1588.97,387.67 1591,387.67 1591,393.65 1592,393.65 1592,398.65 1594,398.65 1594,395.27 1596,395.27 1596,396.15 1598,396.15 1598,390.43 1600,390.43 1600,392.2 1602,392.2 1602,390.01 1604,390.01 1604,393.41 1606,393.41 1606,394.36 1608,394.36 1608,394.76 1610,394.76 1610,395.04 1611.83,395.04 1611.83,395.53 1613.67,395.53 1613.67,395.7 1615.5,395.7 1615.5,395.86 1617.33,395.86 1617.33,394.95 1619.17,394.95 1619.17,395.12 1621,395.12 1621,405.18 1619.17,405.18 1619.17,399.99 1617.33,399.99 1617.33,400.75 1615.5,400.75 1615.5,400.62 1613.67,400.62 1613.67,400.41 1611.83,400.41 1611.83,398.97 1610,398.97 1610,399.7 1608,399.7 1608,398.61 1606,398.61 1606,398.39 1604,398.39 1604,398.53 1602,398.53 1602,398.69 1600,398.69 1600,399.17 1598,399.17 1598,399.36 1596,399.36 1596,400.25 1594,400.25 1594,400.65 1592,400.65 1592,396.81 1591,396.81 1591,391.94 1588.97,391.94 1588.97,392.93 1586.93,392.93 1586.93,389.79 1584.9,389.79 1584.9,390.89 1582.87,390.89 1582.87,390.58 1580.83,390.58 1580.83,389.59 1578.8,389.59 1578.8,386.98 1576.6,386.98 1576.6,387.33 1574.4,387.33 1574.4,388.83 1572.2,388.83 1572.2,389.94 1570,389.94 1570,387.95 1568.03,387.95 1568.03,388.18 1566.05,388.18 1566.05,386.59 1564.08,386.59 1564.08,384.57 1562.1,384.57 1562.1,385.19 1560.12,385.19 1560.12,387.58 1558.15,387.58 1558.15,382.82 1556.17,382.82 1556.17,381.97 1554.2,381.97 1554.2,380.91 1551.97,380.91 1551.97,379.47 1549.75,379.47 1549.75,384.78 1547.53,384.78 1547.53,378.91 1545.3,378.91 1545.3,382.62 1543.53,382.62 1543.53,379.61 1541.77,379.61 1541.77,380.15 1540,380.15 1540,379.86 1537.8,379.86 1537.8,383.08 1535.6,383.08 1535.6,379.07 1533.4,379.07 1533.4,378.34 1531.2,378.34 1531.2,381.12 1528.6,381.12 1528.6,395.83 1528,395.83 1528,406.8 1525.83,406.8 1525.83,404.74 1523.67,404.74 1523.67,409.47 1521.5,409.47 1521.5,410.1 1519.33,410.1 1519.33,408.68 1517.17,408.68 1517.17,404.51 1515,404.51 1515,405.48 1513.08,405.48 1513.08,405.33 1511.16,405.33 1511.16,409.05 1509.23,409.05 1509.23,403.18 1507.31,403.18 1507.31,408.24 1505.39,408.24 1505.39,403.55 1503.47,403.55 1503.47,404.53 1501.54,404.53 1501.54,402.78 1499.62,402.78 1499.62,402.78 1497.7,402.78 1497.7,397.97 1495.97,397.97 1495.97,394.8 1494.23,394.8 1494.23,392.31 1492.5,392.31 1492.5,394.03 1490.33,394.03 1490.33,394.42 1488.17,394.42 1488.17,394.44 1486,394.44 1486,392.3 1484,392.3 1484,393.8 1482,393.8 1482,393.74 1480,393.74 1480,394.01 1478.07,394.01 1478.07,393.55 1476.13,393.55 1476.13,394.09 1474.2,394.09 1474.2,392.85 1472.27,392.85 1472.27,392.93 1470.33,392.93 1470.33,392.92 1468.4,392.92 1468.4,392.49 1467.3,392.49 1467.3,385.68 1465.22,385.68 1465.22,384.38 1463.14,384.38 1463.14,384.3 1461.06,384.3 1461.06,383.58 1458.98,383.58 1458.98,383.99 1456.9,383.99 1456.9,382.56 1454.6,382.56 1454.6,381.88 1452.3,381.88 1452.3,382.99 1450,382.99 1450,381.76 1448,381.76 1448,382.73 1446,382.73 1446,380.15 1444,380.15 1444,381.29 1442,381.29 1442,379.18 1440,379.18 1440,378.94 1438,378.94 1438,380.95 1435.9,380.95 1435.9,386.68 1433.8,386.68 1433.8,396.36 1432.8,396.36 1432.8,404.14 1430.67,404.14 1430.67,403.67 1428.53,403.67 1428.53,408.58 1426.4,408.58 1426.4,406.54 1424.27,406.54 1424.27,401.08 1422.13,401.08 1422.13,401.25 1420,401.25 1420,401.52 1418.09,401.52 1418.09,401.33 1416.17,401.33 1416.17,400.87 1414.26,400.87 1414.26,401.24 1412.34,401.24 1412.34,401.19 1410.43,401.19 1410.43,399.34 1408.51,399.34 1408.51,400.72 1406.6,400.72 1406.6,396.59 1405.5,396.59 1405.5,392.23 1403.56,392.23 1403.56,392.47 1401.62,392.47 1401.62,392.33 1399.69,392.33 1399.69,391.76 1397.75,391.76 1397.75,392.48 1395.81,392.48 1395.81,392.09 1393.88,392.09 1393.88,391.15 1391.94,391.15 1391.94,392.93 1390,392.93 1390,391.06 1388.03,391.06 1388.03,391.12 1386.06,391.12 1386.06,392.08 1384.09,392.08 1384.09,392.88 1382.11,392.88 1382.11,392.92 1380.14,392.92 1380.14,390.97 1378.17,390.97 1378.17,392.65 1376.2,392.65 1376.2,392.29 1375.2,392.29 1375.2,386.25 1373,386.25 1373,384.17 1371,384.17 1371,385.74 1369,385.74 1369,383.86 1367,383.86 1367,385.75 1365,385.75 1365,385.7 1363,385.7 1363,385.84 1361,385.84 1361,385.76 1359,385.76 1359,385.81 1357,385.81 1357,384.38 1355,384.38 1355,384.88 1352.95,384.88 1352.95,385.98 1350.9,385.98 1350.9,385.98 1348.85,385.98 1348.85,389.97 1346.8,389.97 1346.8,391.91 1344.75,391.91 1344.75,387.28 1342.7,387.28 1342.7,393.92 1341.7,393.92 1341.7,399.43 1339.73,399.43 1339.73,399.29 1337.75,399.29 1337.75,403.35 1335.78,403.35 1335.78,400.3 1333.81,400.3 1333.81,398.97 1331.84,398.97 1331.84,402.61 1329.86,402.61 1329.86,403.91 1327.89,403.91 1327.89,399.89 1325.92,399.89 1325.92,399.04 1323.95,399.04 1323.95,399.09 1321.97,399.09 1321.97,403.78 1320,403.78 1320,399.62 1318,399.62 1318,397.31 1316,397.31 1316,397.37 1314,397.37 1314,398.83 1312,398.83 1312,396.73 1310,396.73 1310,396.69 1308,396.69 1308,396.9 1306,396.9 1306,397.23 1304,397.23 1304,396.1 1302,396.1 1302,396.72 1300,396.72 1300,395.32 1298,395.32 1298,397 1296,397 1296,397.04 1294,397.04 1294,395.93 1292,395.93 1292,401.91 1290,401.91 1290,396.31 1288,396.31 1288,397.32 1286,397.32 1286,396.66 1284,396.66 1284,397.46 1282,397.46 1282,378.11 1280.25,378.11 1280.25,378.75 1278.5,378.75 1278.5,375.92 1276.75,375.92 1276.75,376.87 1275,376.87 1275,380.86 1272.97,380.86 1272.97,380.97 1270.93,380.97 1270.93,375.11 1268.9,375.11 1268.9,372.32 1266.68,372.32 1266.68,373.12 1264.45,373.12 1264.45,371.84 1262.22,371.84 1262.22,371.91 1260,371.91 1260,372.23 1257.9,372.23 1257.9,372.71 1255.8,372.71 1255.8,373.31 1253.7,373.31 1253.7,373.84 1251.6,373.84 1251.6,374.86 1249.5,374.86 1249.5,388.8 1248.5,388.8 1248.5,403.84 1246.46,403.84 1246.46,402.73 1244.42,402.73 1244.42,402.16 1242.38,402.16 1242.38,405.28 1240.35,405.28 1240.35,401.69 1238.31,401.69 1238.31,406.68 1236.27,406.68 1236.27,401.94 1234.23,401.94 1234.23,401.57 1232.19,401.57 1232.19,402.59 1230.15,402.59 1230.15,406.66 1228.12,406.66 1228.12,401.76 1226.08,401.76 1226.08,401 1224.04,401 1224.04,406.69 1222,406.69 1222,397.24 1220,397.24 1220,393.36 1218,393.36 1218,392.98 1216,392.98 1216,391.74 1214,391.74 1214,391.6 1212,391.6 1212,392.29 1210,392.29 1210,391.23 1208,391.23 1208,391.39 1206,391.39 1206,390.37 1204,390.37 1204,391.94 1202,391.94 1202,391.85 1200,391.85 1200,391.53 1197.95,391.53 1197.95,390.68 1195.9,390.68 1195.9,396.1 1193.85,396.1 1193.85,389.7 1191.8,389.7 1191.8,390.79 1189.75,390.79 1189.75,390.31 1187.7,390.31 1187.7,380.06 1185.82,380.06 1185.82,374.53 1183.94,374.53 1183.94,373.16 1182.06,373.16 1182.06,371.96 1180.18,371.96 1180.18,375.06 1178.3,375.06 1178.3,372.65 1176.22,372.65 1176.22,373.58 1174.15,373.58 1174.15,373.57 1172.08,373.57 1172.08,374 1170,374 1170,373.71 1168.07,373.71 1168.07,374.25 1166.13,374.25 1166.13,374.52 1164.2,374.52 1164.2,373.93 1162.27,373.93 1162.27,374.79 1160.33,374.79 1160.33,374.98 1158.4,374.98 1158.4,382.46 1156.3,382.46 1156.3,411.52 1154.26,411.52 1154.26,410.29 1152.22,410.29 1152.22,410.02 1150.19,410.02 1150.19,410.08 1148.15,410.08 1148.15,409.25 1146.11,409.25 1146.11,410.86 1144.08,410.86 1144.08,410.21 1142.04,410.21 1142.04,410.11 1140,410.11 1140,410.63 1138,410.63 1138,414.5 1136,414.5 1136,413.39 1134,413.39 1134,407.71 1132,407.71 1132,407.78 1130,407.78 1130,408.32 1128,408.32 1128,403.52 1127,403.52 1127,391.65 1124.88,391.65 1124.88,394.77 1122.75,394.77 1122.75,390.58 1120.62,390.58 1120.62,389.98 1118.5,389.98 1118.5,389.95 1116.38,389.95 1116.38,391.14 1114.25,391.14 1114.25,389.61 1112.12,389.61 1112.12,389.94 1110,389.94 1110,388.85 1108,388.85 1108,389.08 1106,389.08 1106,388.6 1104,388.6 1104,389.41 1102,389.41 1102,389.02 1100,389.02 1100,394.14 1098,394.14 1098,388.51 1096,388.51 1096,391.12 1095.6,391.12 1095.6,385.75 1093.73,385.75 1093.73,380.62 1091.87,380.62 1091.87,381.3 1090,381.3 1090,379.05 1088,379.05 1088,379.59 1086,379.59 1086,379.68 1084,379.68 1084,378.93 1082,378.93 1082,378.45 1080,378.45 1080,376.6 1078,376.6 1078,376.48 1076,376.48 1076,376.08 1074,376.08 1074,375.51 1072,375.51 1072,375.62 1069.4,375.62 1069.4,373.52 1067,373.52 1067,374.24 1065,374.24" fill="#000" fill-opacity="0.92"/>
<polyline points="1065,370 1067,370 1067,366.35 1069.4,366.35 1069.4,367.35 1072,367.35 1072,371.95 1074,371.95 1074,366.33 1076,366.33 1076,373.22 1078,373.22 1078,373.72 1080,373.72 1080,374.17 1082,374.17 1082,374.57 1084,374.57 1084,373.21 1086,373.21 1086,369.92 1088,369.92 1088,376.11 1090,376.11 1090,370.17 1091.87,370.17 1091.87,377.31 1093.73,377.31 1093.73,377.5 1095.6,377.5 1095.6,379.73 1096,379.73 1096,382.05 1098,382.05 1098,384.39 1100,384.39 1100,384.62 1102,384.62 1102,384.85 1104,384.85 1104,383.19 1106,383.19 1106,384.04 1108,384.04 1108,378.44 1110,378.44 1110,383.09 1112.12,383.09 1112.12,383.28 1114.25,383.28 1114.25,384.62 1116.38,384.62 1116.38,380.02 1118.5,380.02 1118.5,384.99 1120.62,384.99 1120.62,386.66 1122.75,386.66 1122.75,386.85 1124.88,386.85 1124.88,380.6 1127,380.6 1127,395.37 1128,395.37 1128,404.37 1130,404.37 1130,404.47 1132,404.47 1132,403.67 1134,403.67 1134,403.77 1136,403.77 1136,403.87 1138,403.87 1138,402.95 1140,402.95 1140,403.06 1142.04,403.06 1142.04,403.19 1144.08,403.19 1144.08,403.62 1146.11,403.62 1146.11,405.28 1148.15,405.28 1148.15,405.4 1150.19,405.4 1150.19,405.53 1152.22,405.53 1152.22,404.41 1154.26,404.41 1154.26,404.53 1156.3,404.53 1156.3,380.1 1158.4,380.1 1158.4,370 1160.33,370 1160.33,370 1162.27,370 1162.27,370 1164.2,370 1164.2,370 1166.13,370 1166.13,371.63 1168.07,371.63 1168.07,369.53 1170,369.53 1170,364.65 1172.08,364.65 1172.08,368.28 1174.15,368.28 1174.15,365 1176.22,365 1176.22,362.5 1178.3,362.5 1178.3,362.5 1180.18,362.5 1180.18,360.94 1182.06,360.94 1182.06,365.89 1183.94,365.89 1183.94,365.89 1185.82,365.89 1185.82,368.39 1187.7,368.39 1187.7,386.56 1189.75,386.56 1189.75,386.3 1191.8,386.3 1191.8,384.96 1193.85,384.96 1193.85,385.61 1195.9,385.61 1195.9,381.61 1197.95,381.61 1197.95,385.33 1200,385.33 1200,386.2 1202,386.2 1202,386.2 1204,386.2 1204,387.04 1206,387.04 1206,387.04 1208,387.04 1208,385 1210,385 1210,385 1212,385 1212,387.5 1214,387.5 1214,388.15 1216,388.15 1216,388.15 1218,388.15 1218,385.08 1220,385.08 1220,392.52 1222,392.52 1222,397.94 1224.04,397.94 1224.04,396.54 1226.08,396.54 1226.08,392.95 1228.12,392.95 1228.12,396.85 1230.15,396.85 1230.15,397.18 1232.19,397.18 1232.19,397.34 1234.23,397.34 1234.23,394.15 1236.27,394.15 1236.27,398.28 1238.31,398.28 1238.31,398.43 1240.35,398.43 1240.35,398.46 1242.38,398.46 1242.38,398.62 1244.42,398.62 1244.42,398.77 1246.46,398.77 1246.46,399.72 1248.5,399.72 1248.5,381.89 1249.5,381.89 1249.5,370.19 1251.6,370.19 1251.6,367.78 1253.7,367.78 1253.7,368.89 1255.8,368.89 1255.8,368.89 1257.9,368.89 1257.9,368.89 1260,368.89 1260,368.12 1262.22,368.12 1262.22,368.12 1264.45,368.12 1264.45,362.5 1266.68,362.5 1266.68,366.89 1268.9,366.89 1268.9,365.88 1270.93,365.88 1270.93,368.85 1272.97,368.85 1272.97,368.85 1275,368.85 1275,371.35 1276.75,371.35 1276.75,370.17 1278.5,370.17 1278.5,370.17 1280.25,370.17 1280.25,372.67 1282,372.67 1282,390.69 1284,390.69 1284,390.03 1286,390.03 1286,389.26 1288,389.26 1288,392.22 1290,392.22 1290,392.9 1292,392.9 1292,391.78 1294,391.78 1294,391.56 1296,391.56 1296,391.33 1298,391.33 1298,392.42 1300,392.42 1300,388.27 1302,388.27 1302,392.77 1304,392.77 1304,391.25 1306,391.25 1306,391.35 1308,391.35 1308,391.45 1310,391.45 1310,386.62 1312,386.62 1312,391.65 1314,391.65 1314,387.61 1316,387.61 1316,392.4 1318,392.4 1318,392.61 1320,392.61 1320,392.25 1321.97,392.25 1321.97,392.43 1323.95,392.43 1323.95,392.61 1325.92,392.61 1325.92,395.17 1327.89,395.17 1327.89,395.36 1329.86,395.36 1329.86,393 1331.84,393 1331.84,395.33 1333.81,395.33 1333.81,389.52 1335.78,389.52 1335.78,395.7 1337.75,395.7 1337.75,393.73 1339.73,393.73 1339.73,389.57 1341.7,389.57 1341.7,388.75 1342.7,388.75 1342.7,384.08 1344.75,384.08 1344.75,382.88 1346.8,382.88 1346.8,382.46 1348.85,382.46 1348.85,378.72 1350.9,378.72 1350.9,382.5 1352.95,382.5 1352.95,382.79 1355,382.79 1355,381.58 1357,381.58 1357,381.58 1359,381.58 1359,380.05 1361,380.05 1361,380.05 1363,380.05 1363,380.05 1365,380.05 1365,380.34 1367,380.34 1367,377.5 1369,377.5 1369,378.21 1371,378.21 1371,375.57 1373,375.57 1373,374.4 1375.2,374.4 1375.2,384.81 1376.2,384.81 1376.2,387.07 1378.17,387.07 1378.17,386.93 1380.14,386.93 1380.14,387.81 1382.11,387.81 1382.11,387.66 1384.09,387.66 1384.09,387.52 1386.06,387.52 1386.06,387.51 1388.03,387.51 1388.03,387.37 1390,387.37 1390,387.42 1391.94,387.42 1391.94,387.93 1393.88,387.93 1393.88,382.61 1395.81,382.61 1395.81,385.93 1397.75,385.93 1397.75,387.31 1399.69,387.31 1399.69,386.46 1401.62,386.46 1401.62,386.71 1403.56,386.71 1403.56,385.02 1405.5,385.02 1405.5,390.5 1406.6,390.5 1406.6,389.29 1408.51,389.29 1408.51,395.17 1410.43,395.17 1410.43,395.45 1412.34,395.45 1412.34,396 1414.26,396 1414.26,396.29 1416.17,396.29 1416.17,392.16 1418.09,392.16 1418.09,397.15 1420,397.15 1420,397.46 1422.13,397.46 1422.13,397.8 1424.27,397.8 1424.27,398.67 1426.4,398.67 1426.4,398.52 1428.53,398.52 1428.53,398.27 1430.67,398.27 1430.67,398.6 1432.8,398.6 1432.8,391.25 1433.8,391.25 1433.8,382.85 1435.9,382.85 1435.9,377.6 1438,377.6 1438,375.8 1440,375.8 1440,375.8 1442,375.8 1442,376.16 1444,376.16 1444,376.16 1446,376.16 1446,376.16 1448,376.16 1448,369.82 1450,369.82 1450,376.17 1452.3,376.17 1452.3,375.2 1454.6,375.2 1454.6,367.44 1456.9,367.44 1456.9,373.77 1458.98,373.77 1458.98,376.27 1461.06,376.27 1461.06,377.89 1463.14,377.89 1463.14,380.39 1465.22,380.39 1465.22,378.61 1467.3,378.61 1467.3,385.91 1468.4,385.91 1468.4,390.01 1470.33,390.01 1470.33,390.66 1472.27,390.66 1472.27,388.16 1474.2,388.16 1474.2,388.41 1476.13,388.41 1476.13,385.76 1478.07,385.76 1478.07,387.5 1480,387.5 1480,387.5 1482,387.5 1482,388.38 1484,388.38 1484,388.38 1486,388.38 1486,386.87 1488.17,386.87 1488.17,387.18 1490.33,387.18 1490.33,387.18 1492.5,387.18 1492.5,388.18 1494.23,388.18 1494.23,389.27 1495.97,389.27 1495.97,391.77 1497.7,391.77 1497.7,398.82 1499.62,398.82 1499.62,399.66 1501.54,399.66 1501.54,393.29 1503.47,393.29 1503.47,399.88 1505.39,399.88 1505.39,397.76 1507.31,397.76 1507.31,398.32 1509.23,398.32 1509.23,398.43 1511.16,398.43 1511.16,398.54 1513.08,398.54 1513.08,398.03 1515,398.03 1515,399.73 1517.17,399.73 1517.17,398.42 1519.33,398.42 1519.33,398 1521.5,398 1521.5,398 1523.67,398 1523.67,396.31 1525.83,396.31 1525.83,398 1528,398 1528,390 1528.6,390 1528.6,378.5 1531.2,378.5 1531.2,375.13 1533.4,375.13 1533.4,374.63 1535.6,374.63 1535.6,373.8 1537.8,373.8 1537.8,373.25 1540,373.25 1540,372.5 1541.77,372.5 1541.77,372.51 1543.53,372.51 1543.53,371.49 1545.3,371.49 1545.3,371.49 1547.53,371.49 1547.53,372.5 1549.75,372.5 1549.75,372.5 1551.97,372.5 1551.97,375 1554.2,375 1554.2,377.5 1556.17,377.5 1556.17,377.5 1558.15,377.5 1558.15,377.5 1560.12,377.5 1560.12,377.5 1562.1,377.5 1562.1,382.05 1564.08,382.05 1564.08,382.05 1566.05,382.05 1566.05,382.05 1568.03,382.05 1568.03,382.72 1570,382.72 1570,382.72 1572.2,382.72 1572.2,377.88 1574.4,377.88 1574.4,375.3 1576.6,375.3 1576.6,378.62 1578.8,378.62 1578.8,378.62 1580.83,378.62 1580.83,380 1582.87,380 1582.87,382.5 1584.9,382.5 1584.9,380.03 1586.93,380.03 1586.93,387.67 1588.97,387.67 1588.97,387.67 1591,387.67 1591,393.65 1592,393.65 1592,398.65 1594,398.65 1594,395.27 1596,395.27 1596,396.15 1598,396.15 1598,390.43 1600,390.43 1600,392.2 1602,392.2 1602,390.01 1604,390.01 1604,393.41 1606,393.41 1606,394.36 1608,394.36 1608,394.76 1610,394.76 1610,395.04 1611.83,395.04 1611.83,395.53 1613.67,395.53 1613.67,395.7 1615.5,395.7 1615.5,395.86 1617.33,395.86 1617.33,394.95 1619.17,394.95 1619.17,395.12 1621,395.12" fill="none" stroke="#000" stroke-width="1.6"/>
<polygon points="1621,365 1623.17,365 1623.17,365.54 1625.33,365.54 1625.33,367.5 1627.5,367.5 1627.5,369.44 1628,369.44 1628,370.07 1629.89,370.07 1629.89,370.21 1631.77,370.21 1631.77,370.36 1633.66,370.36 1633.66,371.38 1635.54,371.38 1635.54,371.53 1637.43,371.53 1637.43,366.81 1639.31,366.81 1639.31,370.93 1641.2,370.93 1641.2,373 1642,373 1642,375.65 1644.13,375.65 1644.13,375.65 1646.27,375.65 1646.27,375.26 1648.4,375.26 1648.4,377.76 1650.53,377.76 1650.53,374.3 1652.67,374.3 1652.67,374.92 1654.8,374.92 1654.8,380.25 1656,380.25 1656,377.59 1658,377.59 1658,378.68 1660,378.68 1660,383.37 1662,383.37 1662,382.94 1664,382.94 1664,383.06 1666,383.06 1666,383.36 1668,383.36 1668,383.48 1670,383.48 1670,380.55 1672,380.55 1672,383.56 1674,383.56 1674,383.69 1676,383.69 1676,383.81 1678,383.81 1678,383.94 1680,383.94 1680,383.9 1682,383.9 1682,380.22 1684,380.22 1684,384.22 1686,384.22 1686,385.33 1688,385.33 1688,383.1 1690,383.1 1690,383.2 1692.16,383.2 1692.16,384.54 1694.32,384.54 1694.32,384 1696.48,384 1696.48,384.4 1698.64,384.4 1698.64,385.4 1700.8,385.4 1700.8,390.97 1701.5,390.97 1701.5,400.77 1703.67,400.77 1703.67,400.51 1705.83,400.51 1705.83,400.84 1708,400.84 1708,397.01 1709.2,397.01 1709.2,400.02 1710.5,400.02 1710.5,404.09 1712.4,404.09 1712.4,403.68 1714.3,403.68 1714.3,403.88 1716.2,403.88 1716.2,404.87 1718.1,404.87 1718.1,403.26 1720,403.26 1720,403.42 1721.88,403.42 1721.88,403.55 1723.75,403.55 1723.75,403.31 1725.62,403.31 1725.62,403.44 1727.5,403.44 1727.5,403.56 1729.38,403.56 1729.38,405.23 1731.25,405.23 1731.25,405.35 1733.12,405.35 1733.12,405.48 1735,405.48 1735,401.93 1735.4,401.93 1735.4,401.93 1736,401.93 1736,405.43 1738,405.43 1738,403.64 1740,403.64 1740,390 1740.6,390 1740.6,371.35 1742.7,371.35 1742.7,364.86 1744.53,364.86 1744.53,365.89 1746.35,365.89 1746.35,367.31 1748.17,367.31 1748.17,367.64 1750,367.64 1750,368.19 1752,368.19 1752,367.44 1754,367.44 1754,367.84 1756,367.84 1756,367.65 1758,367.65 1758,362.84 1760,362.84 1760,368.25 1762,368.25 1762,368.15 1764,368.15 1764,368.15 1766,368.15 1766,368.3 1768,368.3 1768,368.3 1770,368.3 1770,367.5 1772,367.5 1772,363.07 1774,363.07 1774,365 1776,365 1776,365 1778,365 1778,366 1780.4,366 1780.4,377.74 1781,377.74 1781,387.09 1783.25,387.09 1783.25,387.19 1785.5,387.19 1785.5,385.85 1787.75,385.85 1787.75,385.95 1790,385.95 1790,381.89 1792.06,381.89 1792.06,380.49 1794.12,380.49 1794.12,383.41 1796.18,383.41 1796.18,380.91 1798.24,380.91 1798.24,380.58 1800.3,380.58 1800.3,380.58 1802.24,380.58 1802.24,380.58 1804.18,380.58 1804.18,383.83 1806.12,383.83 1806.12,377.63 1808.06,377.63 1808.06,386.12 1810,386.12 1810,387.28 1811.88,387.28 1811.88,387.62 1813.77,387.62 1813.77,388.91 1815.65,388.91 1815.65,389.24 1817.53,389.24 1817.53,382.95 1819.42,382.95 1819.42,388.94 1821.3,388.94 1821.3,393.6 1821.8,393.6 1821.8,398.6 1823.82,398.6 1823.82,398.91 1825.84,398.91 1825.84,397.5 1827.87,397.5 1827.87,399.22 1829.89,399.22 1829.89,399.22 1831.91,399.22 1831.91,401.72 1833.93,401.72 1833.93,400.03 1835.96,400.03 1835.96,400 1837.98,400 1837.98,400 1840,400 1840,398.43 1841.9,398.43 1841.9,400.3 1843.8,400.3 1843.8,400.5 1845.7,400.5 1845.7,400.7 1847.6,400.7 1847.6,400.9 1849.5,400.9 1849.5,397.9 1851.4,397.9 1851.4,401.3 1853.3,401.3 1853.3,397.86 1855.2,397.86 1855.2,401.7 1857.1,401.7 1857.1,403.55 1859,403.55 1859,384.25 1859.5,384.25 1859.5,365.42 1861.33,365.42 1861.33,365.25 1863.17,365.25 1863.17,364.4 1865,364.4 1865,362.62 1866.75,362.62 1866.75,363.66 1868.5,363.66 1868.5,361.16 1870.25,361.16 1870.25,360 1872,360 1872,360.88 1874.35,360.88 1874.35,363.62 1876.7,363.62 1876.7,360.67 1878.47,360.67 1878.47,365.21 1880.25,365.21 1880.25,360.53 1882.03,360.53 1882.03,362.71 1883.8,362.71 1883.8,362.94 1885.6,362.94 1885.6,365.44 1887.4,365.44 1887.4,360.78 1889.2,360.78 1889.2,367.5 1891,367.5 1891,367.5 1892.9,367.5 1892.9,370 1894.8,370 1894.8,370 1896.7,370 1896.7,370 1898.6,370 1898.6,372.5 1900.5,372.5 1900.5,385.01 1901,385.01 1901,395.33 1903,395.33 1903,396.37 1905,396.37 1905,396.2 1907,396.2 1907,394.94 1909,394.94 1909,395.23 1911,395.23 1911,395.02 1913,395.02 1913,387.24 1914.7,387.24 1914.7,386.74 1916,386.74 1916,393.6 1917.75,393.6 1917.75,390 1919.5,390 1919.5,390 1921.25,390 1921.25,387.5 1923,387.5 1923,387.08 1925,387.08 1925,387.25 1927,387.25 1927,389.58 1929,389.58 1929,387.58 1931,387.58 1931,387.75 1933,387.75 1933,387.92 1935,387.92 1935,387.5 1936.88,387.5 1936.88,390 1938.75,390 1938.75,390 1940.62,390 1940.62,387.6 1942.5,387.6 1942.5,393.84 1944.38,393.84 1944.38,392.5 1946.25,392.5 1946.25,390.74 1948.12,390.74 1948.12,395.63 1950,395.63 1950,396.69 1951.88,396.69 1951.88,398.25 1953.75,398.25 1953.75,398.38 1955.62,398.38 1955.62,398.5 1957.5,398.5 1957.5,397.42 1959.38,397.42 1959.38,396.69 1961.25,396.69 1961.25,396.81 1963.12,396.81 1963.12,396.94 1965,396.94 1965,398.58 1966.88,398.58 1966.88,398.46 1968.75,398.46 1968.75,398.33 1970.62,398.33 1970.62,396.56 1972.5,396.56 1972.5,396.44 1974.38,396.44 1974.38,396.31 1976.25,396.31 1976.25,398.01 1978.12,398.01 1978.12,397.89 1980,397.89 1980,389.06 1980.2,389.06 1980.2,376.76 1982.6,376.76 1982.6,373.06 1984.57,373.06 1984.57,378.53 1986.53,378.53 1986.53,381.03 1988.5,381.03 1988.5,383.1 1990.56,383.1 1990.56,382.61 1992.62,382.61 1992.62,379.48 1994.69,379.48 1994.69,382.44 1996.75,382.44 1996.75,382.56 1998.81,382.56 1998.81,382.69 2000.88,382.69 2000.88,382.81 2002.94,382.81 2002.94,383.45 2005,383.45 2005,383.62 2007.06,383.62 2007.06,383.58 2009.11,383.58 2009.11,383.79 2011.17,383.79 2011.17,384.01 2013.23,384.01 2013.23,381.84 2015.29,381.84 2015.29,384.62 2017.34,384.62 2017.34,384.84 2019.4,384.84 2019.4,392.26 2021.32,392.26 2021.32,392.95 2023.24,392.95 2023.24,392.5 2025.16,392.5 2025.16,392.7 2027.08,392.7 2027.08,392.9 2029,392.9 2029,386 2030.94,386 2030.94,383.79 2032.88,383.79 2032.88,386.11 2034.81,386.11 2034.81,386.11 2036.75,386.11 2036.75,386.04 2038.69,386.04 2038.69,386.04 2040.62,386.04 2040.62,386.04 2042.56,386.04 2042.56,386.19 2044.5,386.19 2044.5,386.06 2046.44,386.06 2046.44,386.06 2048.38,386.06 2048.38,386.06 2050.31,386.06 2050.31,386.02 2052.25,386.02 2052.25,382.12 2054.19,382.12 2054.19,386.68 2056.12,386.68 2056.12,386.2 2058.06,386.2 2058.06,386.2 2060,386.2 2060,402.26 2062.05,402.26 2062.05,402.76 2064.1,402.76 2064.1,403.26 2066.15,403.26 2066.15,404.52 2068.2,404.52 2068.2,396.83 2070.3,396.83 2070.3,396.95 2072.4,396.95 2072.4,397.08 2074.5,397.08 2074.5,397.08 2076.6,397.08 2076.6,393.96 2078.7,393.96 2078.7,394.42 2080.8,394.42 2080.8,397.53 2082.9,397.53 2082.9,397.65 2085,397.65 2085,394.48 2087.07,394.48 2087.07,397.59 2089.13,397.59 2089.13,397.5 2091.2,397.5 2091.2,400 2093.27,400 2093.27,400 2095.33,400 2095.33,400 2097.4,400 2097.4,403.67 2095.33,403.67 2095.33,402.79 2093.27,402.79 2093.27,402.69 2091.2,402.69 2091.2,401.94 2089.13,401.94 2089.13,401.28 2087.07,401.28 2087.07,400.94 2085,400.94 2085,400.48 2082.9,400.48 2082.9,404.05 2080.8,404.05 2080.8,400.45 2078.7,400.45 2078.7,400.73 2076.6,400.73 2076.6,401.14 2074.5,401.14 2074.5,400.62 2072.4,400.62 2072.4,400.38 2070.3,400.38 2070.3,402.74 2068.2,402.74 2068.2,408.52 2066.15,408.52 2066.15,407.52 2064.1,407.52 2064.1,408.41 2062.05,408.41 2062.05,408.44 2060,408.44 2060,389.83 2058.06,389.83 2058.06,389.02 2056.12,389.02 2056.12,389.34 2054.19,389.34 2054.19,389.32 2052.25,389.32 2052.25,389.89 2050.31,389.89 2050.31,389.89 2048.38,389.89 2048.38,389.54 2046.44,389.54 2046.44,389.65 2044.5,389.65 2044.5,389.2 2042.56,389.2 2042.56,391.73 2040.62,391.73 2040.62,389.16 2038.69,389.16 2038.69,389.32 2036.75,389.32 2036.75,389.4 2034.81,389.4 2034.81,389.54 2032.88,389.54 2032.88,389.3 2030.94,389.3 2030.94,388.83 2029,388.83 2029,397.71 2027.08,397.71 2027.08,396.79 2025.16,396.79 2025.16,396.05 2023.24,396.05 2023.24,396.22 2021.32,396.22 2021.32,396.47 2019.4,396.47 2019.4,388.33 2017.34,388.33 2017.34,388.43 2015.29,388.43 2015.29,387.84 2013.23,387.84 2013.23,387.75 2011.17,387.75 2011.17,387.4 2009.11,387.4 2009.11,388.02 2007.06,388.02 2007.06,387.36 2005,387.36 2005,386.89 2002.94,386.89 2002.94,387.36 2000.88,387.36 2000.88,386.69 1998.81,386.69 1998.81,389.94 1996.75,389.94 1996.75,386.19 1994.69,386.19 1994.69,386.01 1992.62,386.01 1992.62,386.96 1990.56,386.96 1990.56,386.28 1988.5,386.28 1988.5,384.81 1986.53,384.81 1986.53,388 1984.57,388 1984.57,384.32 1982.6,384.32 1982.6,382.56 1980.2,382.56 1980.2,392.3 1980,392.3 1980,401.12 1978.12,401.12 1978.12,400.91 1976.25,400.91 1976.25,401.63 1974.38,401.63 1974.38,401.82 1972.5,401.82 1972.5,401.4 1970.62,401.4 1970.62,401.7 1968.75,401.7 1968.75,402.23 1966.88,402.23 1966.88,402.85 1965,402.85 1965,404.84 1963.12,404.84 1963.12,401.71 1961.25,401.71 1961.25,401.02 1959.38,401.02 1959.38,400.95 1957.5,400.95 1957.5,400.69 1955.62,400.69 1955.62,401.74 1953.75,401.74 1953.75,400.9 1951.88,400.9 1951.88,401.08 1950,401.08 1950,400.36 1948.12,400.36 1948.12,400.88 1946.25,400.88 1946.25,403.18 1944.38,403.18 1944.38,398.27 1942.5,398.27 1942.5,397.67 1940.62,397.67 1940.62,397.49 1938.75,397.49 1938.75,402.14 1936.88,402.14 1936.88,397.86 1935,397.86 1935,397.85 1933,397.85 1933,395.85 1931,395.85 1931,396.14 1929,396.14 1929,395.49 1927,395.49 1927,396.72 1925,396.72 1925,395.9 1923,395.9 1923,402.14 1921.25,402.14 1921.25,398.35 1919.5,398.35 1919.5,398.83 1917.75,398.83 1917.75,397.59 1916,397.59 1916,399.8 1914.7,399.8 1914.7,396.5 1913,396.5 1913,399.91 1911,399.91 1911,399.72 1909,399.72 1909,398.62 1907,398.62 1907,399.75 1905,399.75 1905,399.66 1903,399.66 1903,399.5 1901,399.5 1901,388.12 1900.5,388.12 1900.5,375.41 1898.6,375.41 1898.6,378.32 1896.7,378.32 1896.7,373.27 1894.8,373.27 1894.8,373.39 1892.9,373.39 1892.9,371.15 1891,371.15 1891,371.36 1889.2,371.36 1889.2,370.59 1887.4,370.59 1887.4,368.99 1885.6,368.99 1885.6,371.5 1883.8,371.5 1883.8,368.88 1882.03,368.88 1882.03,368.82 1880.25,368.82 1880.25,368.73 1878.47,368.73 1878.47,368.33 1876.7,368.33 1876.7,368.32 1874.35,368.32 1874.35,366.09 1872,366.09 1872,367.26 1870.25,367.26 1870.25,366.05 1868.5,366.05 1868.5,367.62 1866.75,367.62 1866.75,367.03 1865,367.03 1865,367.53 1863.17,367.53 1863.17,370 1861.33,370 1861.33,368 1859.5,368 1859.5,386.83 1859,386.83 1859,406.86 1857.1,406.86 1857.1,405.54 1855.2,405.54 1855.2,405.31 1853.3,405.31 1853.3,405.39 1851.4,405.39 1851.4,404.8 1849.5,404.8 1849.5,404.94 1847.6,404.94 1847.6,404.89 1845.7,404.89 1845.7,404.64 1843.8,404.64 1843.8,405.19 1841.9,405.19 1841.9,405.01 1840,405.01 1840,403.54 1837.98,403.54 1837.98,404.07 1835.96,404.07 1835.96,405.46 1833.93,405.46 1833.93,403.72 1831.91,403.72 1831.91,402.89 1829.89,402.89 1829.89,401.91 1827.87,401.91 1827.87,401.69 1825.84,401.69 1825.84,400.91 1823.82,400.91 1823.82,400.94 1821.8,400.94 1821.8,402.02 1821.3,402.02 1821.3,393.28 1819.42,393.28 1819.42,394.46 1817.53,394.46 1817.53,394.06 1815.65,394.06 1815.65,393.58 1813.77,393.58 1813.77,392.61 1811.88,392.61 1811.88,392.38 1810,392.38 1810,393.15 1808.06,393.15 1808.06,392.94 1806.12,392.94 1806.12,397.29 1804.18,397.29 1804.18,389.67 1802.24,389.67 1802.24,389.38 1800.3,389.38 1800.3,391.88 1798.24,391.88 1798.24,390.72 1796.18,390.72 1796.18,391.82 1794.12,391.82 1794.12,389.19 1792.06,389.19 1792.06,391.3 1790,391.3 1790,390.93 1787.75,390.93 1787.75,390.07 1785.5,390.07 1785.5,390.55 1783.25,390.55 1783.25,389.52 1781,389.52 1781,380.27 1780.4,380.27 1780.4,371.72 1778,371.72 1778,371.4 1776,371.4 1776,370.85 1774,370.85 1774,372.42 1772,372.42 1772,371.89 1770,371.89 1770,372.55 1768,372.55 1768,373.03 1766,373.03 1766,373.48 1764,373.48 1764,373.67 1762,373.67 1762,373.21 1760,373.21 1760,372.63 1758,372.63 1758,373.24 1756,373.24 1756,373.31 1754,373.31 1754,373.21 1752,373.21 1752,372.6 1750,372.6 1750,371.71 1748.17,371.71 1748.17,370.84 1746.35,370.84 1746.35,369 1744.53,369 1744.53,368.38 1742.7,368.38 1742.7,374.98 1740.6,374.98 1740.6,397.8 1740,397.8 1740,407.49 1738,407.49 1738,408.57 1736,408.57 1736,408.12 1735.4,408.12 1735.4,407.48 1735,407.48 1735,409.87 1733.12,409.87 1733.12,409.85 1731.25,409.85 1731.25,409.03 1729.38,409.03 1729.38,413.1 1727.5,413.1 1727.5,413.85 1725.62,413.85 1725.62,414.12 1723.75,414.12 1723.75,408.85 1721.88,408.85 1721.88,409.13 1720,409.13 1720,409.12 1718.1,409.12 1718.1,413.79 1716.2,413.79 1716.2,408.14 1714.3,408.14 1714.3,407.3 1712.4,407.3 1712.4,407.58 1710.5,407.58 1710.5,405.64 1709.2,405.64 1709.2,407.14 1708,407.14 1708,407.28 1705.83,407.28 1705.83,405.68 1703.67,405.68 1703.67,409.7 1701.5,409.7 1701.5,396.53 1700.8,396.53 1700.8,390.8 1698.64,390.8 1698.64,389.08 1696.48,389.08 1696.48,390.49 1694.32,390.49 1694.32,388.59 1692.16,388.59 1692.16,392.08 1690,392.08 1690,388.67 1688,388.67 1688,388.75 1686,388.75 1686,388.37 1684,388.37 1684,388.9 1682,388.9 1682,388.6 1680,388.6 1680,393.35 1678,393.35 1678,387.61 1676,387.61 1676,387.5 1674,387.5 1674,388.42 1672,388.42 1672,387.46 1670,387.46 1670,387.52 1668,387.52 1668,387.47 1666,387.47 1666,387.13 1664,387.13 1664,386.75 1662,386.75 1662,386.62 1660,386.62 1660,386.9 1658,386.9 1658,387.92 1656,387.92 1656,388.56 1654.8,388.56 1654.8,382.27 1652.67,382.27 1652.67,381.27 1650.53,381.27 1650.53,380.99 1648.4,380.99 1648.4,385.08 1646.27,385.08 1646.27,379.74 1644.13,379.74 1644.13,380.04 1642,380.04 1642,377.23 1641.2,377.23 1641.2,378.2 1639.31,378.2 1639.31,375.13 1637.43,375.13 1637.43,378 1635.54,378 1635.54,374.26 1633.66,374.26 1633.66,379.55 1631.77,379.55 1631.77,373.36 1629.89,373.36 1629.89,373.89 1628,373.89 1628,371.44 1627.5,371.44 1627.5,369.5 1625.33,369.5 1625.33,367.77 1623.17,367.77 1623.17,367.5 1621,367.5" fill="#4d4343" fill-opacity="0.8"/>
<polyline points="1621,365 1623.17,365 1623.17,365.54 1625.33,365.54 1625.33,367.5 1627.5,367.5 1627.5,369.44 1628,369.44 1628,370.07 1629.89,370.07 1629.89,370.21 1631.77,370.21 1631.77,370.36 1633.66,370.36 1633.66,371.38 1635.54,371.38 1635.54,371.53 1637.43,371.53 1637.43,366.81 1639.31,366.81 1639.31,370.93 1641.2,370.93 1641.2,373 1642,373 1642,375.65 1644.13,375.65 1644.13,375.65 1646.27,375.65 1646.27,375.26 1648.4,375.26 1648.4,377.76 1650.53,377.76 1650.53,374.3 1652.67,374.3 1652.67,374.92 1654.8,374.92 1654.8,380.25 1656,380.25 1656,377.59 1658,377.59 1658,378.68 1660,378.68 1660,383.37 1662,383.37 1662,382.94 1664,382.94 1664,383.06 1666,383.06 1666,383.36 1668,383.36 1668,383.48 1670,383.48 1670,380.55 1672,380.55 1672,383.56 1674,383.56 1674,383.69 1676,383.69 1676,383.81 1678,383.81 1678,383.94 1680,383.94 1680,383.9 1682,383.9 1682,380.22 1684,380.22 1684,384.22 1686,384.22 1686,385.33 1688,385.33 1688,383.1 1690,383.1 1690,383.2 1692.16,383.2 1692.16,384.54 1694.32,384.54 1694.32,384 1696.48,384 1696.48,384.4 1698.64,384.4 1698.64,385.4 1700.8,385.4 1700.8,390.97 1701.5,390.97 1701.5,400.77 1703.67,400.77 1703.67,400.51 1705.83,400.51 1705.83,400.84 1708,400.84 1708,397.01 1709.2,397.01 1709.2,400.02 1710.5,400.02 1710.5,404.09 1712.4,404.09 1712.4,403.68 1714.3,403.68 1714.3,403.88 1716.2,403.88 1716.2,404.87 1718.1,404.87 1718.1,403.26 1720,403.26 1720,403.42 1721.88,403.42 1721.88,403.55 1723.75,403.55 1723.75,403.31 1725.62,403.31 1725.62,403.44 1727.5,403.44 1727.5,403.56 1729.38,403.56 1729.38,405.23 1731.25,405.23 1731.25,405.35 1733.12,405.35 1733.12,405.48 1735,405.48 1735,401.93 1735.4,401.93 1735.4,401.93 1736,401.93 1736,405.43 1738,405.43 1738,403.64 1740,403.64 1740,390 1740.6,390 1740.6,371.35 1742.7,371.35 1742.7,364.86 1744.53,364.86 1744.53,365.89 1746.35,365.89 1746.35,367.31 1748.17,367.31 1748.17,367.64 1750,367.64 1750,368.19 1752,368.19 1752,367.44 1754,367.44 1754,367.84 1756,367.84 1756,367.65 1758,367.65 1758,362.84 1760,362.84 1760,368.25 1762,368.25 1762,368.15 1764,368.15 1764,368.15 1766,368.15 1766,368.3 1768,368.3 1768,368.3 1770,368.3 1770,367.5 1772,367.5 1772,363.07 1774,363.07 1774,365 1776,365 1776,365 1778,365 1778,366 1780.4,366 1780.4,377.74 1781,377.74 1781,387.09 1783.25,387.09 1783.25,387.19 1785.5,387.19 1785.5,385.85 1787.75,385.85 1787.75,385.95 1790,385.95 1790,381.89 1792.06,381.89 1792.06,380.49 1794.12,380.49 1794.12,383.41 1796.18,383.41 1796.18,380.91 1798.24,380.91 1798.24,380.58 1800.3,380.58 1800.3,380.58 1802.24,380.58 1802.24,380.58 1804.18,380.58 1804.18,383.83 1806.12,383.83 1806.12,377.63 1808.06,377.63 1808.06,386.12 1810,386.12 1810,387.28 1811.88,387.28 1811.88,387.62 1813.77,387.62 1813.77,388.91 1815.65,388.91 1815.65,389.24 1817.53,389.24 1817.53,382.95 1819.42,382.95 1819.42,388.94 1821.3,388.94 1821.3,393.6 1821.8,393.6 1821.8,398.6 1823.82,398.6 1823.82,398.91 1825.84,398.91 1825.84,397.5 1827.87,397.5 1827.87,399.22 1829.89,399.22 1829.89,399.22 1831.91,399.22 1831.91,401.72 1833.93,401.72 1833.93,400.03 1835.96,400.03 1835.96,400 1837.98,400 1837.98,400 1840,400 1840,398.43 1841.9,398.43 1841.9,400.3 1843.8,400.3 1843.8,400.5 1845.7,400.5 1845.7,400.7 1847.6,400.7 1847.6,400.9 1849.5,400.9 1849.5,397.9 1851.4,397.9 1851.4,401.3 1853.3,401.3 1853.3,397.86 1855.2,397.86 1855.2,401.7 1857.1,401.7 1857.1,403.55 1859,403.55 1859,384.25 1859.5,384.25 1859.5,365.42 1861.33,365.42 1861.33,365.25 1863.17,365.25 1863.17,364.4 1865,364.4 1865,362.62 1866.75,362.62 1866.75,363.66 1868.5,363.66 1868.5,361.16 1870.25,361.16 1870.25,360 1872,360 1872,360.88 1874.35,360.88 1874.35,363.62 1876.7,363.62 1876.7,360.67 1878.47,360.67 1878.47,365.21 1880.25,365.21 1880.25,360.53 1882.03,360.53 1882.03,362.71 1883.8,362.71 1883.8,362.94 1885.6,362.94 1885.6,365.44 1887.4,365.44 1887.4,360.78 1889.2,360.78 1889.2,367.5 1891,367.5 1891,367.5 1892.9,367.5 1892.9,370 1894.8,370 1894.8,370 1896.7,370 1896.7,370 1898.6,370 1898.6,372.5 1900.5,372.5 1900.5,385.01 1901,385.01 1901,395.33 1903,395.33 1903,396.37 1905,396.37 1905,396.2 1907,396.2 1907,394.94 1909,394.94 1909,395.23 1911,395.23 1911,395.02 1913,395.02 1913,387.24 1914.7,387.24 1914.7,386.74 1916,386.74 1916,393.6 1917.75,393.6 1917.75,390 1919.5,390 1919.5,390 1921.25,390 1921.25,387.5 1923,387.5 1923,387.08 1925,387.08 1925,387.25 1927,387.25 1927,389.58 1929,389.58 1929,387.58 1931,387.58 1931,387.75 1933,387.75 1933,387.92 1935,387.92 1935,387.5 1936.88,387.5 1936.88,390 1938.75,390 1938.75,390 1940.62,390 1940.62,387.6 1942.5,387.6 1942.5,393.84 1944.38,393.84 1944.38,392.5 1946.25,392.5 1946.25,390.74 1948.12,390.74 1948.12,395.63 1950,395.63 1950,396.69 1951.88,396.69 1951.88,398.25 1953.75,398.25 1953.75,398.38 1955.62,398.38 1955.62,398.5 1957.5,398.5 1957.5,397.42 1959.38,397.42 1959.38,396.69 1961.25,396.69 1961.25,396.81 1963.12,396.81 1963.12,396.94 1965,396.94 1965,398.58 1966.88,398.58 1966.88,398.46 1968.75,398.46 1968.75,398.33 1970.62,398.33 1970.62,396.56 1972.5,396.56 1972.5,396.44 1974.38,396.44 1974.38,396.31 1976.25,396.31 1976.25,398.01 1978.12,398.01 1978.12,397.89 1980,397.89 1980,389.06 1980.2,389.06 1980.2,376.76 1982.6,376.76 1982.6,373.06 1984.57,373.06 1984.57,378.53 1986.53,378.53 1986.53,381.03 1988.5,381.03 1988.5,383.1 1990.56,383.1 1990.56,382.61 1992.62,382.61 1992.62,379.48 1994.69,379.48 1994.69,382.44 1996.75,382.44 1996.75,382.56 1998.81,382.56 1998.81,382.69 2000.88,382.69 2000.88,382.81 2002.94,382.81 2002.94,383.45 2005,383.45 2005,383.62 2007.06,383.62 2007.06,383.58 2009.11,383.58 2009.11,383.79 2011.17,383.79 2011.17,384.01 2013.23,384.01 2013.23,381.84 2015.29,381.84 2015.29,384.62 2017.34,384.62 2017.34,384.84 2019.4,384.84 2019.4,392.26 2021.32,392.26 2021.32,392.95 2023.24,392.95 2023.24,392.5 2025.16,392.5 2025.16,392.7 2027.08,392.7 2027.08,392.9 2029,392.9 2029,386 2030.94,386 2030.94,383.79 2032.88,383.79 2032.88,386.11 2034.81,386.11 2034.81,386.11 2036.75,386.11 2036.75,386.04 2038.69,386.04 2038.69,386.04 2040.62,386.04 2040.62,386.04 2042.56,386.04 2042.56,386.19 2044.5,386.19 2044.5,386.06 2046.44,386.06 2046.44,386.06 2048.38,386.06 2048.38,386.06 2050.31,386.06 2050.31,386.02 2052.25,386.02 2052.25,382.12 2054.19,382.12 2054.19,386.68 2056.12,386.68 2056.12,386.2 2058.06,386.2 2058.06,386.2 2060,386.2 2060,402.26 2062.05,402.26 2062.05,402.76 2064.1,402.76 2064.1,403.26 2066.15,403.26 2066.15,404.52 2068.2,404.52 2068.2,396.83 2070.3,396.83 2070.3,396.95 2072.4,396.95 2072.4,397.08 2074.5,397.08 2074.5,397.08 2076.6,397.08 2076.6,393.96 2078.7,393.96 2078.7,394.42 2080.8,394.42 2080.8,397.53 2082.9,397.53 2082.9,397.65 2085,397.65 2085,394.48 2087.07,394.48 2087.07,397.59 2089.13,397.59 2089.13,397.5 2091.2,397.5 2091.2,400 2093.27,400 2093.27,400 2095.33,400 2095.33,400 2097.4,400" fill="none" stroke="#4d4343" stroke-width="1.6"/>
<rect x="230.5" y="812" width="2.3" height="46" fill="#000"/>
<rect x="233.5" y="768" width="2.5" height="44" fill="#555"/>
<rect x="234" y="768" width="4" height="11" fill="#000"/>
<rect x="238" y="690" width="2.5" height="78" fill="#000"/>
<rect x="240.5" y="697" width="1.5" height="71" fill="#444"/>
<rect x="242" y="722" width="3" height="47" fill="#555"/>
<rect x="242.5" y="722" width="2.5" height="28" fill="#000"/>
<rect x="245" y="676" width="4.5" height="140" fill="#000"/>
<rect x="247" y="816" width="3.5" height="35" fill="#000"/>
<rect x="250.5" y="800" width="3.5" height="15" fill="#555"/>
<rect x="254.5" y="765" width="2.5" height="35" fill="#555"/>
<rect x="256.5" y="715" width="2.5" height="50" fill="#444"/>
<rect x="258.5" y="683.5" width="3.5" height="81.5" fill="#333"/>
<rect x="261.5" y="700" width="4" height="60" fill="#000"/>
<rect x="261.5" y="760" width="4" height="11" fill="#555"/>
<rect x="265.5" y="701.5" width="4" height="74.5" fill="#555"/>
<rect x="268.5" y="777.6" width="4.5" height="95.4" fill="#555"/>
<rect x="269.5" y="800" width="3" height="40" fill="#000"/>
<rect x="272.5" y="798" width="4" height="17" fill="#555"/>
<rect x="276" y="726" width="3" height="72" fill="#555"/>
<rect x="277" y="711" width="4" height="15" fill="#555"/>
<rect x="281" y="710" width="8" height="4" fill="#333"/>
<rect x="283.5" y="718" width="4.5" height="52" fill="#222"/>
<rect x="281" y="712" width="2.5" height="68" fill="#666"/>
<rect x="288.3" y="426" width="2.5" height="286" fill="#000"/>
<line x1="468.9" y1="378" x2="468.9" y2="1584" stroke="#000" stroke-width="3.4" stroke-opacity="1"/>
<line x1="667" y1="368" x2="667" y2="1584" stroke="#000" stroke-width="3.6" stroke-opacity="0.8"/>
<line x1="787" y1="366" x2="787" y2="1584" stroke="#000" stroke-width="4" stroke-opacity="0.62"/>
<line x1="1065" y1="372" x2="1065" y2="1584" stroke="#000" stroke-width="4" stroke-opacity="0.68"/>
<line x1="1621" y1="364.7" x2="1621" y2="1584" stroke="#111" stroke-width="3.8" stroke-opacity="0.88"/>
<line x1="2097.4" y1="400" x2="2097.4" y2="1584" stroke="#444" stroke-width="3.2" stroke-opacity="0.8"/>
<line x1="228.7" y1="59.6" x2="228.7" y2="1588.8" stroke="#000" stroke-width="4.6"/>
<line x1="226.4" y1="1584.0" x2="2110.6" y2="1584.0" stroke="#000" stroke-width="5"/>
<line x1="228.7" y1="61.8" x2="248.5" y2="61.8" stroke="#000" stroke-width="4.2"/>
<line x1="228.7" y1="442.3" x2="248.5" y2="442.3" stroke="#000" stroke-width="4.2"/>
<line x1="228.7" y1="822.8" x2="248.5" y2="822.8" stroke="#000" stroke-width="4.2"/>
<line x1="228.7" y1="1203.3" x2="248.5" y2="1203.3" stroke="#000" stroke-width="4.2"/>
<line x1="447.86" y1="1565" x2="447.86" y2="1584.0" stroke="#000" stroke-width="4"/>
<line x1="669" y1="1565" x2="669" y2="1584.0" stroke="#000" stroke-width="4"/>
<line x1="890.14" y1="1565" x2="890.14" y2="1584.0" stroke="#000" stroke-width="4"/>
<line x1="1111.28" y1="1565" x2="1111.28" y2="1584.0" stroke="#000" stroke-width="4"/>
<line x1="1332.42" y1="1565" x2="1332.42" y2="1584.0" stroke="#000" stroke-width="4"/>
<line x1="1553.56" y1="1565" x2="1553.56" y2="1584.0" stroke="#000" stroke-width="4"/>
<line x1="1774.7" y1="1565" x2="1774.7" y2="1584.0" stroke="#000" stroke-width="4"/>
<line x1="1995.84" y1="1565" x2="1995.84" y2="1584.0" stroke="#000" stroke-width="4"/>
<g font-family="'Liberation Serif','Times New Roman',serif" font-size="65" fill="#000"><text x="208" y="79.3" text-anchor="end">1.00</text><text x="208" y="459.8" text-anchor="end">0.95</text><text x="208" y="840.3" text-anchor="end">0.90</text><text x="208" y="1220.8" text-anchor="end">0.85</text><text x="208" y="1601.3" text-anchor="end">0.80</text><text x="449.36" y="1654" text-anchor="middle">200</text><text x="670.5" y="1654" text-anchor="middle">400</text><text x="891.64" y="1654" text-anchor="middle">600</text><text x="1112.78" y="1654" text-anchor="middle">800</text><text x="1333.92" y="1654" text-anchor="middle">1000</text><text x="1555.06" y="1654" text-anchor="middle">1200</text><text x="1776.2" y="1654" text-anchor="middle">1400</text><text x="1997.34" y="1654" text-anchor="middle">1600</text></g>
<text font-family="'Liberation Serif','Times New Roman',serif" font-size="65" x="1176.4" y="1740.3" text-anchor="middle">Iterations</text>
<text font-family="'Liberation Serif','Times New Roman',serif" font-size="65" transform="translate(70,823) rotate(-90)" text-anchor="middle">Best score</text>
<rect x="1135" y="39" width="955.6" height="280.3" fill="#fff" stroke="#4d4d4d" stroke-width="3.6"/>
<rect x="1173.1" y="72.7" width="86.4" height="42.4" fill="#ababab" stroke="#1c1c1c" stroke-width="3.0"/>
<text font-family="'Liberation Serif','Times New Roman',serif" font-size="65" fill="#000"><tspan x="1305" y="114.3">1</tspan><tspan x="1337.5" y="85.9" font-size="45">st</tspan><tspan x="1383.7" y="114.3" letter-spacing="0.3">iteration</tspan></text>
<rect x="1639.7" y="72.7" width="85.6" height="42.4" fill="#2b64dc" stroke="#1c1c1c" stroke-width="3.0"/>
<text font-family="'Liberation Serif','Times New Roman',serif" font-size="65" fill="#000"><tspan x="1769.8" y="114.3">2</tspan><tspan x="1802.3" y="85.9" font-size="45">nd</tspan><tspan x="1863.7" y="114.3" letter-spacing="0.3">iteration</tspan></text>
<rect x="1173.1" y="161.8" width="86.4" height="42" fill="#ffe300" stroke="#1c1c1c" stroke-width="3.0"/>
<text font-family="'Liberation Serif','Times New Roman',serif" font-size="65" fill="#000"><tspan x="1305" y="203">3</tspan><tspan x="1337.5" y="174.6" font-size="45">rd</tspan><tspan x="1390.9" y="203" letter-spacing="0.3">iteration</tspan></text>
<rect x="1639.7" y="161.8" width="85.6" height="42" fill="#00bfff" stroke="#1c1c1c" stroke-width="3.0"/>
<text font-family="'Liberation Serif','Times New Roman',serif" font-size="65" fill="#000"><tspan x="1769.8" y="203">4</tspan><tspan x="1802.3" y="174.6" font-size="45">th</tspan><tspan x="1854" y="203" letter-spacing="0.3">iteration</tspan></text>
<rect x="1173.1" y="253" width="86.4" height="41.7" fill="#ff0000" stroke="#1c1c1c" stroke-width="3.0"/>
<text font-family="'Liberation Serif','Times New Roman',serif" font-size="65" fill="#000"><tspan x="1305" y="294">5</tspan><tspan x="1337.5" y="265.6" font-size="45">th</tspan><tspan x="1388.8" y="294" letter-spacing="0.3">iteration</tspan></text>
<rect x="1639.7" y="253" width="85.6" height="41.7" fill="#008e5a" stroke="#1c1c1c" stroke-width="3.0"/>
<text font-family="'Liberation Serif','Times New Roman',serif" font-size="65" fill="#000"><tspan x="1769.8" y="294">6</tspan><tspan x="1802.3" y="265.6" font-size="45">th</tspan><tspan x="1854" y="294" letter-spacing="0.3">iteration</tspan></text></svg>
</body></html>
